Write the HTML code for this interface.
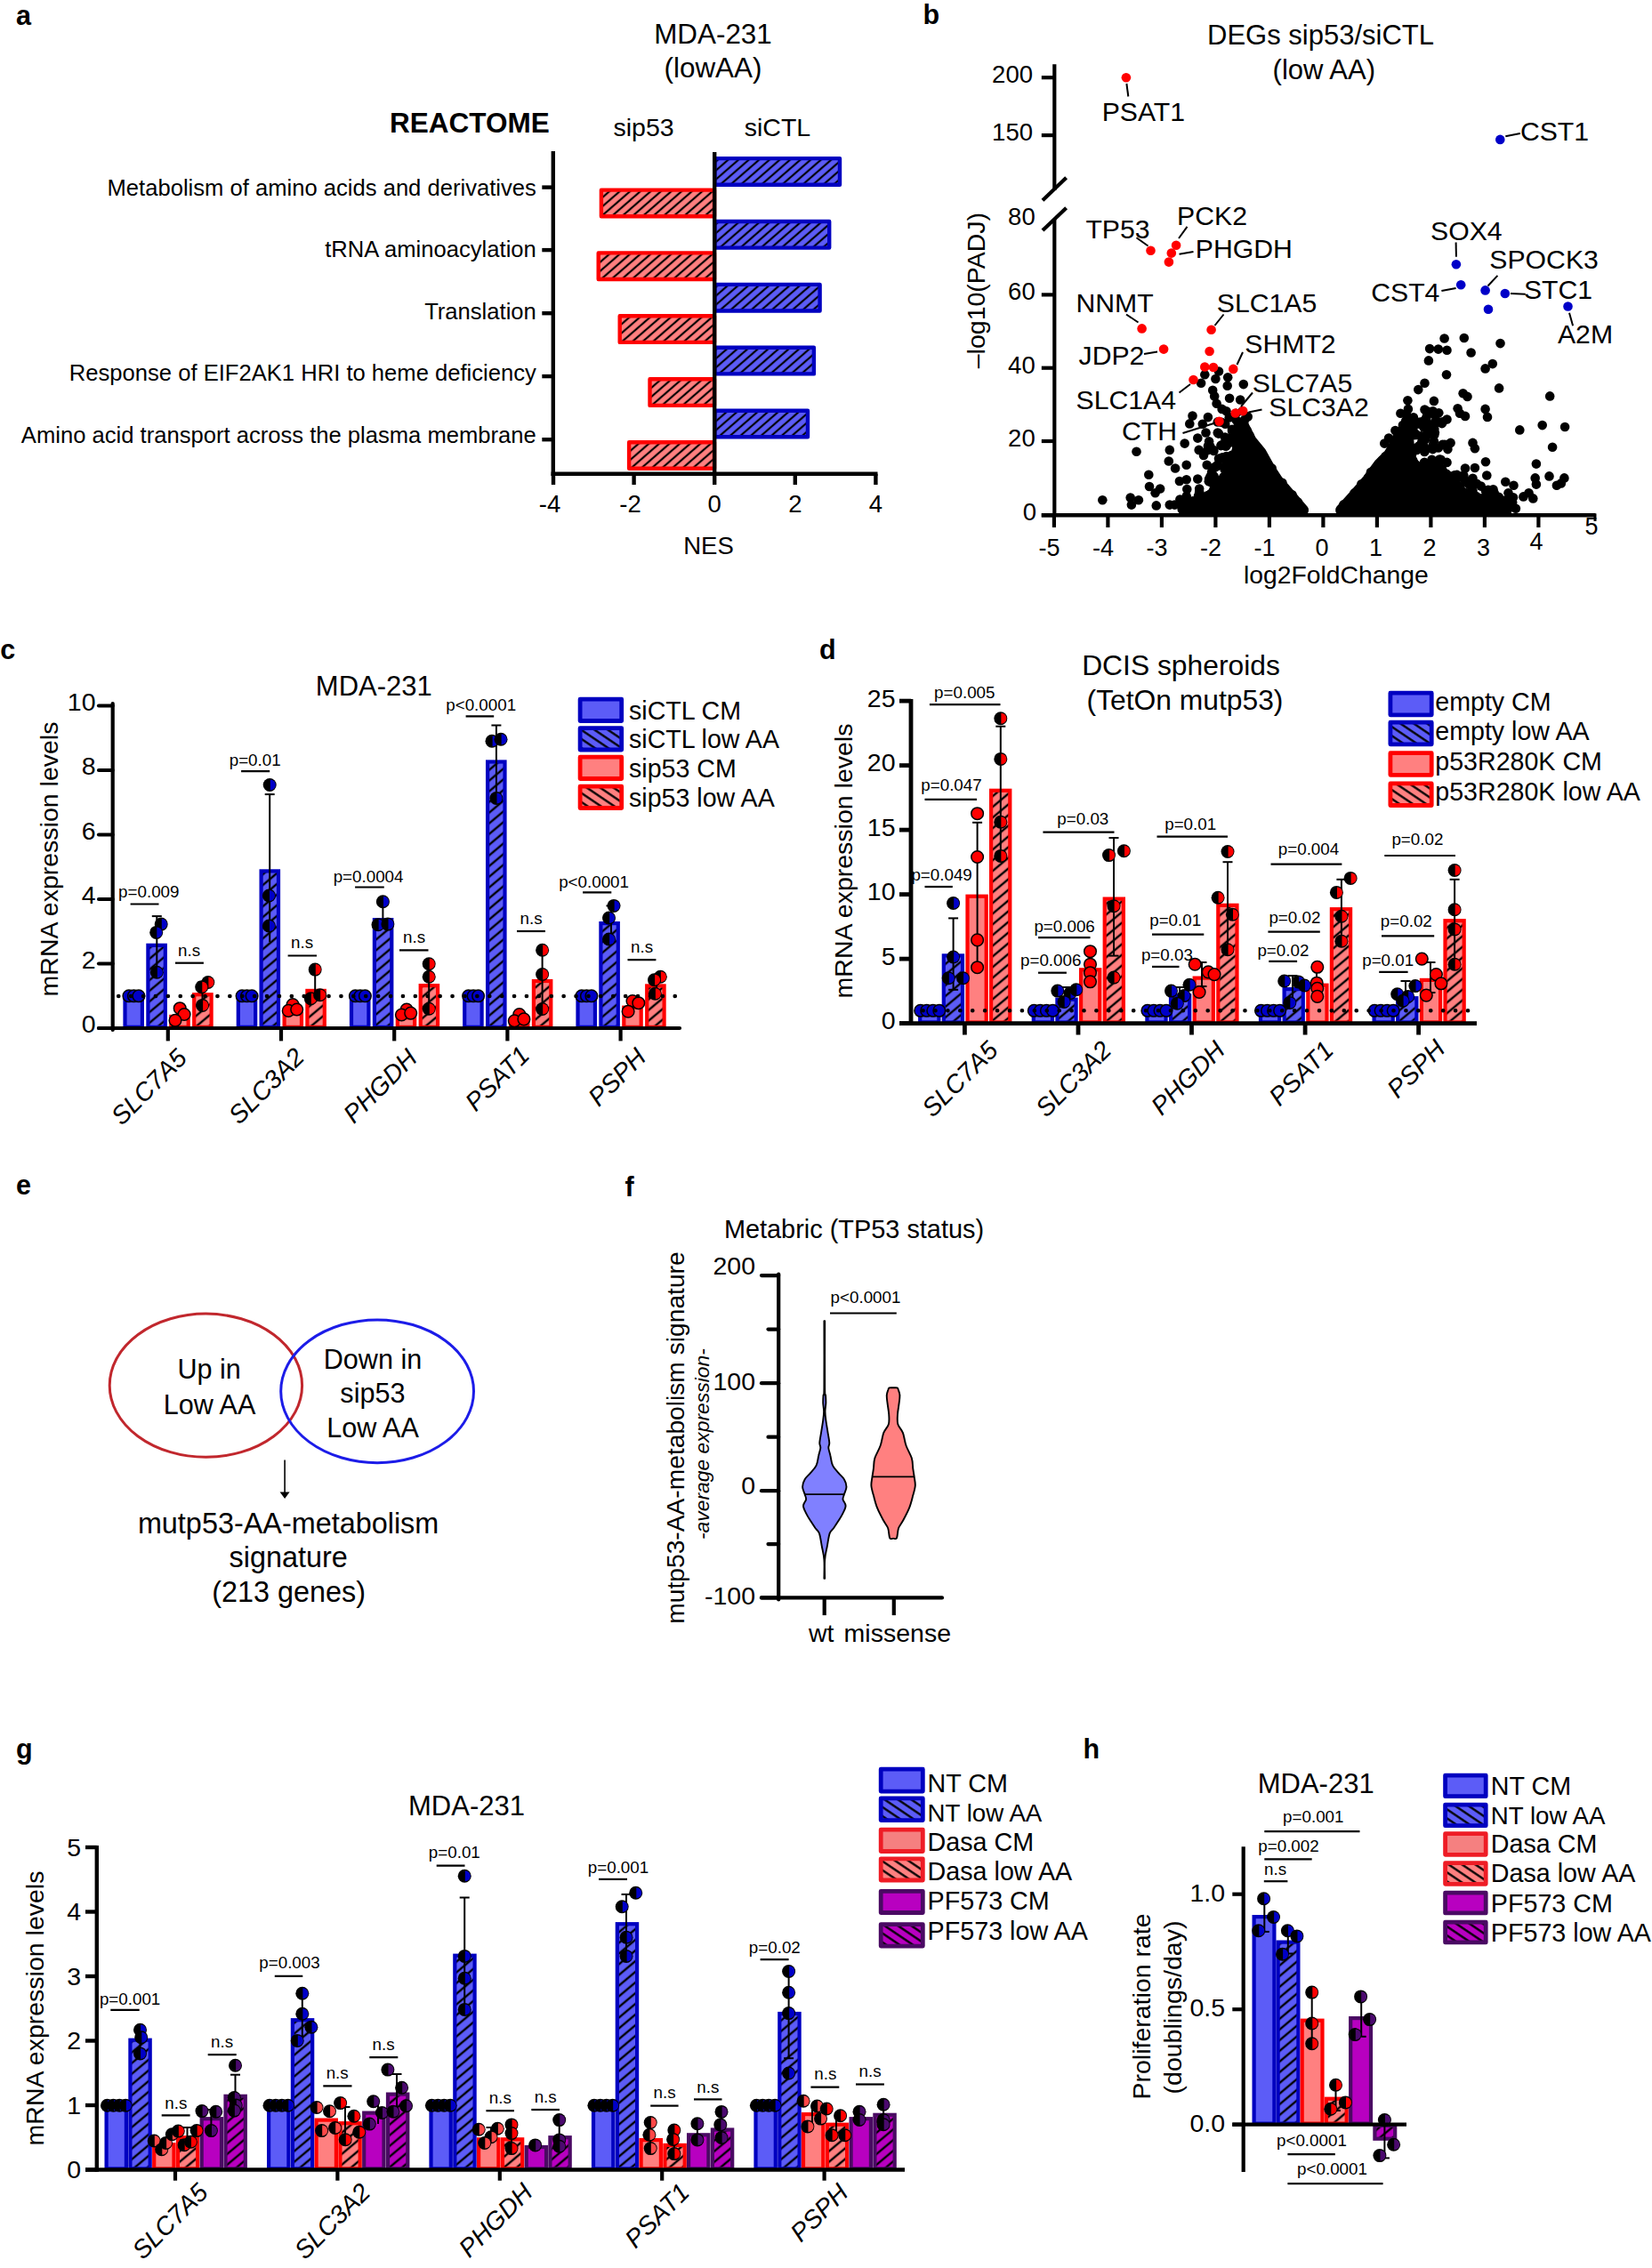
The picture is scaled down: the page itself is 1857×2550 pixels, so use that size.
<!DOCTYPE html>
<html><head><meta charset="utf-8"><title>Figure</title>
<style>html,body{margin:0;padding:0;background:#fff}svg{display:block}text{font-family:"Liberation Sans",Arial,Helvetica,sans-serif}</style>
</head><body>
<svg width="1857" height="2550" viewBox="0 0 1857 2550">
<rect width="1857" height="2550" fill="#fff"/>
<defs>
<pattern id="hb" width="20" height="9.2" patternUnits="userSpaceOnUse" patternTransform="rotate(-40)"><rect width="20" height="9.2" fill="#5c5cf7"/><rect y="3.4" width="20" height="2.4" fill="#000"/></pattern>
<pattern id="hr" width="20" height="9.2" patternUnits="userSpaceOnUse" patternTransform="rotate(-40)"><rect width="20" height="9.2" fill="#ff8080"/><rect y="3.4" width="20" height="2.4" fill="#000"/></pattern>
<pattern id="hp" width="20" height="9.2" patternUnits="userSpaceOnUse" patternTransform="rotate(-40)"><rect width="20" height="9.2" fill="#b800c0"/><rect y="3.4" width="20" height="2.4" fill="#000"/></pattern>
<pattern id="ab" width="20" height="7.6" patternUnits="userSpaceOnUse" patternTransform="rotate(-41)"><rect width="20" height="7.6" fill="#5c5cf7"/><rect y="2.7" width="20" height="2.2" fill="#000"/></pattern>
<pattern id="ar" width="20" height="7.6" patternUnits="userSpaceOnUse" patternTransform="rotate(-41)"><rect width="20" height="7.6" fill="#ff8080"/><rect y="2.7" width="20" height="2.2" fill="#000"/></pattern>
<pattern id="lb" width="20" height="8.4" patternUnits="userSpaceOnUse" patternTransform="rotate(34)"><rect width="20" height="8.4" fill="#5c5cf7"/><rect y="3" width="20" height="2.3" fill="#000"/></pattern>
<pattern id="lr" width="20" height="8.4" patternUnits="userSpaceOnUse" patternTransform="rotate(34)"><rect width="20" height="8.4" fill="#ff8080"/><rect y="3" width="20" height="2.3" fill="#000"/></pattern>
<pattern id="lp" width="20" height="8.4" patternUnits="userSpaceOnUse" patternTransform="rotate(34)"><rect width="20" height="8.4" fill="#b800c0"/><rect y="3" width="20" height="2.3" fill="#000"/></pattern>
</defs>
<text x="18" y="28" font-size="30.5" font-weight="bold">a</text>
<text x="801.5" y="49.2" font-size="31.4" text-anchor="middle">MDA-231</text>
<text x="801.5" y="87.2" font-size="31.4" text-anchor="middle">(lowAA)</text>
<text x="617.8" y="149.4" font-size="31.5" text-anchor="end" font-weight="bold">REACTOME</text>
<text x="723.6" y="152.5" font-size="28.5" text-anchor="middle">sip53</text>
<text x="874" y="152.5" font-size="28.5" text-anchor="middle">siCTL</text>
<rect x="803.4" y="178.1" width="140.6" height="29.6" fill="url(#ab)" stroke="#0000c0" stroke-width="4.4" stroke-linejoin="round"/>
<rect x="675.9" y="213.6" width="127.1" height="29.6" fill="url(#ar)" stroke="#ff0000" stroke-width="4.4" stroke-linejoin="round"/>
<rect x="803.4" y="249" width="128.8" height="29.6" fill="url(#ab)" stroke="#0000c0" stroke-width="4.4" stroke-linejoin="round"/>
<rect x="672.7" y="284.4" width="130.3" height="29.6" fill="url(#ar)" stroke="#ff0000" stroke-width="4.4" stroke-linejoin="round"/>
<rect x="803.4" y="319.9" width="118.2" height="29.6" fill="url(#ab)" stroke="#0000c0" stroke-width="4.4" stroke-linejoin="round"/>
<rect x="696.7" y="355.3" width="106.3" height="29.6" fill="url(#ar)" stroke="#ff0000" stroke-width="4.4" stroke-linejoin="round"/>
<rect x="803.4" y="390.8" width="111.5" height="29.6" fill="url(#ab)" stroke="#0000c0" stroke-width="4.4" stroke-linejoin="round"/>
<rect x="730.5" y="426.3" width="72.5" height="29.6" fill="url(#ar)" stroke="#ff0000" stroke-width="4.4" stroke-linejoin="round"/>
<rect x="803.4" y="461.7" width="104.6" height="29.6" fill="url(#ab)" stroke="#0000c0" stroke-width="4.4" stroke-linejoin="round"/>
<rect x="707.1" y="497.2" width="95.9" height="29.6" fill="url(#ar)" stroke="#ff0000" stroke-width="4.4" stroke-linejoin="round"/>
<line x1="621.8" y1="170" x2="621.8" y2="535" stroke="#000" stroke-width="4.4"/>
<line x1="803.2" y1="171" x2="803.2" y2="533" stroke="#000" stroke-width="4.4"/>
<line x1="619.6" y1="532.8" x2="986.5" y2="532.8" stroke="#000" stroke-width="4.4"/>
<line x1="622" y1="532.8" x2="622" y2="545" stroke="#000" stroke-width="4.4"/>
<text x="618" y="575.6" font-size="27.5" text-anchor="middle">-4</text>
<line x1="712.6" y1="532.8" x2="712.6" y2="545" stroke="#000" stroke-width="4.4"/>
<text x="708.6" y="575.6" font-size="27.5" text-anchor="middle">-2</text>
<line x1="803.2" y1="532.8" x2="803.2" y2="545" stroke="#000" stroke-width="4.4"/>
<text x="803.2" y="575.6" font-size="27.5" text-anchor="middle">0</text>
<line x1="893.8" y1="532.8" x2="893.8" y2="545" stroke="#000" stroke-width="4.4"/>
<text x="893.8" y="575.6" font-size="27.5" text-anchor="middle">2</text>
<line x1="984.4" y1="532.8" x2="984.4" y2="545" stroke="#000" stroke-width="4.4"/>
<text x="984.4" y="575.6" font-size="27.5" text-anchor="middle">4</text>
<text x="796.5" y="622.9" font-size="27.5" text-anchor="middle">NES</text>
<line x1="609.3" y1="210.6" x2="621.8" y2="210.6" stroke="#000" stroke-width="4.4"/>
<text x="602.8" y="219.5" font-size="25.6" text-anchor="end">Metabolism of amino acids and derivatives</text>
<line x1="609.3" y1="281.1" x2="621.8" y2="281.1" stroke="#000" stroke-width="4.4"/>
<text x="602.8" y="289.1" font-size="25.6" text-anchor="end">tRNA aminoacylation</text>
<line x1="609.3" y1="352.2" x2="621.8" y2="352.2" stroke="#000" stroke-width="4.4"/>
<text x="602.8" y="358.7" font-size="25.6" text-anchor="end">Translation</text>
<line x1="609.3" y1="423.1" x2="621.8" y2="423.1" stroke="#000" stroke-width="4.4"/>
<text x="602.8" y="428.3" font-size="25.6" text-anchor="end">Response of EIF2AK1 HRI to heme deficiency</text>
<line x1="609.3" y1="494.2" x2="621.8" y2="494.2" stroke="#000" stroke-width="4.4"/>
<text x="602.8" y="497.9" font-size="25.6" text-anchor="end">Amino acid transport across the plasma membrane</text>
<text x="1037.5" y="27" font-size="30.5" font-weight="bold">b</text>
<text x="1484.5" y="50" font-size="31" text-anchor="middle">DEGs sip53/siCTL</text>
<text x="1488.3" y="89.1" font-size="31" text-anchor="middle">(low AA)</text>
<polygon points="1465.7,574 1465.7,573.1 1452.7,557.9 1437.5,540.6 1428.8,527.5 1418,508.1 1407.1,494.9 1400.6,482.2 1396.7,474.4 1393,484.7 1393.6,492.9 1388.8,510.2 1379.7,532 1362.8,553.8 1341,571.5 1341,574" fill="#000" stroke="#000" stroke-width="10.6" stroke-linejoin="round"/>
<polygon points="1506.5,574 1506.5,573.1 1523.9,553.8 1536.9,538.6 1550,520.9 1560.8,510.2 1573.8,488.4 1578.2,478.5 1582.4,488.8 1581.8,510.2 1595.1,527.9 1625.3,532.8 1633.8,548.4 1655.6,557.9 1681,567 1694.3,573.5 1694.3,574" fill="#000" stroke="#000" stroke-width="10.6" stroke-linejoin="round"/>
<g fill="#000">
<circle cx="1462.6" cy="571.1" r="5.3"/>
<circle cx="1458.9" cy="564.6" r="5.3"/>
<circle cx="1452.5" cy="556.2" r="5.3"/>
<circle cx="1444.2" cy="548.4" r="5.3"/>
<circle cx="1441.4" cy="542.8" r="5.3"/>
<circle cx="1437" cy="540.5" r="5.3"/>
<circle cx="1430.4" cy="531.7" r="5.3"/>
<circle cx="1429.7" cy="526.5" r="5.3"/>
<circle cx="1423.6" cy="519.5" r="5.3"/>
<circle cx="1417.7" cy="509.5" r="5.3"/>
<circle cx="1414.1" cy="504" r="5.3"/>
<circle cx="1410.9" cy="500.2" r="5.3"/>
<circle cx="1404.7" cy="490" r="5.3"/>
<circle cx="1401.8" cy="484.2" r="5.3"/>
<circle cx="1398.1" cy="475.2" r="5.3"/>
<circle cx="1394.6" cy="481.4" r="5.3"/>
<circle cx="1392.8" cy="492.1" r="5.3"/>
<circle cx="1393.1" cy="494.7" r="5.3"/>
<circle cx="1390.8" cy="501.5" r="5.3"/>
<circle cx="1387.6" cy="515.2" r="5.3"/>
<circle cx="1382.6" cy="524.4" r="5.3"/>
<circle cx="1381.2" cy="528.9" r="5.3"/>
<circle cx="1376.3" cy="538" r="5.3"/>
<circle cx="1369" cy="544.7" r="5.3"/>
<circle cx="1366.2" cy="552.2" r="5.3"/>
<circle cx="1360.9" cy="555.6" r="5.3"/>
<circle cx="1357.1" cy="557.3" r="5.3"/>
<circle cx="1349.9" cy="564" r="5.3"/>
<circle cx="1345" cy="567.3" r="5.3"/>
<circle cx="1510.3" cy="567.4" r="5.3"/>
<circle cx="1516.6" cy="564.1" r="5.3"/>
<circle cx="1522.4" cy="554.4" r="5.3"/>
<circle cx="1527.4" cy="552.4" r="5.3"/>
<circle cx="1530.4" cy="544.2" r="5.3"/>
<circle cx="1537.9" cy="537.5" r="5.3"/>
<circle cx="1540.9" cy="530.9" r="5.3"/>
<circle cx="1547.4" cy="525.9" r="5.3"/>
<circle cx="1553.7" cy="517.5" r="5.3"/>
<circle cx="1557.7" cy="513.1" r="5.3"/>
<circle cx="1565.3" cy="505.4" r="5.3"/>
<circle cx="1566.5" cy="498.9" r="5.3"/>
<circle cx="1570.9" cy="489.7" r="5.3"/>
<circle cx="1573.7" cy="485.8" r="5.3"/>
<circle cx="1576.9" cy="478" r="5.3"/>
<circle cx="1582" cy="488.1" r="5.3"/>
<circle cx="1582.3" cy="501.1" r="5.3"/>
<circle cx="1581.5" cy="504.4" r="5.3"/>
<circle cx="1583.4" cy="512.4" r="5.3"/>
<circle cx="1588.2" cy="517.6" r="5.3"/>
<circle cx="1590.6" cy="521.9" r="5.3"/>
<circle cx="1600.3" cy="527.5" r="5.3"/>
<circle cx="1609.9" cy="529.2" r="5.3"/>
<circle cx="1612.9" cy="531.1" r="5.3"/>
<circle cx="1626.3" cy="533.4" r="5.3"/>
<circle cx="1626" cy="533.8" r="5.3"/>
<circle cx="1632.9" cy="547.5" r="5.3"/>
<circle cx="1635.4" cy="550.4" r="5.3"/>
<circle cx="1649.3" cy="555.6" r="5.3"/>
<circle cx="1655" cy="556.5" r="5.3"/>
<circle cx="1659.5" cy="558.1" r="5.3"/>
<circle cx="1663.6" cy="560.3" r="5.3"/>
<circle cx="1679.8" cy="565.9" r="5.3"/>
<circle cx="1688.7" cy="571.4" r="5.3"/>
<circle cx="1689.2" cy="570.6" r="5.3"/>
<circle cx="1239.3" cy="562.3" r="5.3"/>
<circle cx="1270.7" cy="559.6" r="5.3"/>
<circle cx="1271.9" cy="567.6" r="5.3"/>
<circle cx="1279.9" cy="562.3" r="5.3"/>
<circle cx="1277.5" cy="507.8" r="5.3"/>
<circle cx="1291.3" cy="533.7" r="5.3"/>
<circle cx="1292" cy="547" r="5.3"/>
<circle cx="1298.6" cy="554.3" r="5.3"/>
<circle cx="1304.1" cy="549.5" r="5.3"/>
<circle cx="1299.8" cy="568.4" r="5.3"/>
<circle cx="1314.8" cy="505.9" r="5.3"/>
<circle cx="1313.8" cy="518.5" r="5.3"/>
<circle cx="1321.1" cy="526.5" r="5.3"/>
<circle cx="1314.8" cy="567.6" r="5.3"/>
<circle cx="1320.4" cy="567.6" r="5.3"/>
<circle cx="1325.9" cy="541" r="5.3"/>
<circle cx="1333.7" cy="522.8" r="5.3"/>
<circle cx="1333.7" cy="539.3" r="5.3"/>
<circle cx="1331.7" cy="498.6" r="5.3"/>
<circle cx="1340.5" cy="467.6" r="5.3"/>
<circle cx="1337.3" cy="476.4" r="5.3"/>
<circle cx="1357.9" cy="469.1" r="5.3"/>
<circle cx="1351.8" cy="476.8" r="5.3"/>
<circle cx="1346.3" cy="492.6" r="5.3"/>
<circle cx="1347.7" cy="505.9" r="5.3"/>
<circle cx="1346.3" cy="538.6" r="5.3"/>
<circle cx="1333.7" cy="557.9" r="5.3"/>
<circle cx="1336.1" cy="565.2" r="5.3"/>
<circle cx="1334.9" cy="572.5" r="5.3"/>
<circle cx="1354.3" cy="421.2" r="5.3"/>
<circle cx="1370" cy="417.5" r="5.3"/>
<circle cx="1366.4" cy="426" r="5.3"/>
<circle cx="1350.1" cy="430.8" r="5.3"/>
<circle cx="1380.2" cy="424.3" r="5.3"/>
<circle cx="1379.7" cy="433.7" r="5.3"/>
<circle cx="1397.8" cy="432.1" r="5.3"/>
<circle cx="1363.2" cy="438.8" r="5.3"/>
<circle cx="1365.2" cy="445.4" r="5.3"/>
<circle cx="1382.1" cy="447.8" r="5.3"/>
<circle cx="1394.2" cy="449.5" r="5.3"/>
<circle cx="1367.6" cy="453.8" r="5.3"/>
<circle cx="1373.6" cy="459.9" r="5.3"/>
<circle cx="1378.5" cy="462.3" r="5.3"/>
<circle cx="1355.5" cy="486.5" r="5.3"/>
<circle cx="1359.1" cy="496.2" r="5.3"/>
<circle cx="1353" cy="511.9" r="5.3"/>
<circle cx="1363.9" cy="505.9" r="5.3"/>
<circle cx="1356.7" cy="522.8" r="5.3"/>
<circle cx="1365.2" cy="525.3" r="5.3"/>
<circle cx="1359.1" cy="538.6" r="5.3"/>
<circle cx="1348.2" cy="549.5" r="5.3"/>
<circle cx="1353" cy="559.2" r="5.3"/>
<circle cx="1343.4" cy="566.4" r="5.3"/>
<circle cx="1368.8" cy="486.5" r="5.3"/>
<circle cx="1372.4" cy="501.1" r="5.3"/>
<circle cx="1378.5" cy="525.3" r="5.3"/>
<circle cx="1382.1" cy="493.8" r="5.3"/>
<circle cx="1386.9" cy="484.1" r="5.3"/>
<circle cx="1391.8" cy="476.8" r="5.3"/>
<circle cx="1377.3" cy="476.8" r="5.3"/>
<circle cx="1368.8" cy="474.4" r="5.3"/>
<circle cx="1399" cy="472" r="5.3"/>
<circle cx="1402.7" cy="468.4" r="5.3"/>
<circle cx="1396.6" cy="462.3" r="5.3"/>
<circle cx="1389.4" cy="464.7" r="5.3"/>
<circle cx="1350.6" cy="571.3" r="5.3"/>
<circle cx="1357.9" cy="568.8" r="5.3"/>
<circle cx="1365.2" cy="547" r="5.3"/>
<circle cx="1370" cy="515.6" r="5.3"/>
<circle cx="1384.5" cy="511.9" r="5.3"/>
<circle cx="1379.7" cy="539.8" r="5.3"/>
<circle cx="1372.4" cy="554.3" r="5.3"/>
<circle cx="1389.4" cy="472" r="5.3"/>
<circle cx="1607.1" cy="392.1" r="5.3"/>
<circle cx="1616.8" cy="392.6" r="5.3"/>
<circle cx="1626.5" cy="393.8" r="5.3"/>
<circle cx="1605.9" cy="405.4" r="5.3"/>
<circle cx="1653.6" cy="396.5" r="5.3"/>
<circle cx="1686.5" cy="386.1" r="5.3"/>
<circle cx="1677.8" cy="409.1" r="5.3"/>
<circle cx="1669.6" cy="414.4" r="5.3"/>
<circle cx="1626" cy="421.2" r="5.3"/>
<circle cx="1601.5" cy="430.8" r="5.3"/>
<circle cx="1594.3" cy="438.1" r="5.3"/>
<circle cx="1685.1" cy="436.4" r="5.3"/>
<circle cx="1644.6" cy="442.2" r="5.3"/>
<circle cx="1649.5" cy="445.9" r="5.3"/>
<circle cx="1742.2" cy="445.4" r="5.3"/>
<circle cx="1582.4" cy="450.2" r="5.3"/>
<circle cx="1611.9" cy="450.9" r="5.3"/>
<circle cx="1638.6" cy="459.2" r="5.3"/>
<circle cx="1669.6" cy="459.9" r="5.3"/>
<circle cx="1601.5" cy="460.6" r="5.3"/>
<circle cx="1610.7" cy="462.3" r="5.3"/>
<circle cx="1617.3" cy="464.3" r="5.3"/>
<circle cx="1641" cy="464.7" r="5.3"/>
<circle cx="1647" cy="467.9" r="5.3"/>
<circle cx="1672" cy="468.9" r="5.3"/>
<circle cx="1759.1" cy="480" r="5.3"/>
<circle cx="1733.7" cy="478.1" r="5.3"/>
<circle cx="1708.3" cy="483.4" r="5.3"/>
<circle cx="1626.5" cy="471.5" r="5.3"/>
<circle cx="1621.6" cy="474.4" r="5.3"/>
<circle cx="1613.2" cy="474.4" r="5.3"/>
<circle cx="1602.3" cy="471.5" r="5.3"/>
<circle cx="1630.6" cy="497.9" r="5.3"/>
<circle cx="1655.5" cy="497.9" r="5.3"/>
<circle cx="1657.9" cy="504.2" r="5.3"/>
<circle cx="1745.1" cy="502.7" r="5.3"/>
<circle cx="1670" cy="519.2" r="5.3"/>
<circle cx="1726.9" cy="521.6" r="5.3"/>
<circle cx="1626.5" cy="519.9" r="5.3"/>
<circle cx="1647" cy="526.5" r="5.3"/>
<circle cx="1657.9" cy="526" r="5.3"/>
<circle cx="1671.3" cy="534.5" r="5.3"/>
<circle cx="1655.5" cy="537.8" r="5.3"/>
<circle cx="1725.7" cy="537.4" r="5.3"/>
<circle cx="1741.5" cy="535.4" r="5.3"/>
<circle cx="1758.4" cy="537.4" r="5.3"/>
<circle cx="1754.8" cy="543.4" r="5.3"/>
<circle cx="1749.9" cy="545.8" r="5.3"/>
<circle cx="1726.9" cy="544.6" r="5.3"/>
<circle cx="1664.7" cy="546.6" r="5.3"/>
<circle cx="1692.3" cy="541.7" r="5.3"/>
<circle cx="1701.5" cy="545.8" r="5.3"/>
<circle cx="1678.5" cy="550.2" r="5.3"/>
<circle cx="1712.4" cy="558.4" r="5.3"/>
<circle cx="1718.5" cy="554.3" r="5.3"/>
<circle cx="1723.3" cy="560.4" r="5.3"/>
<circle cx="1701" cy="559.2" r="5.3"/>
<circle cx="1700.3" cy="570" r="5.3"/>
<circle cx="1623.6" cy="380.5" r="5.3"/>
<circle cx="1645.8" cy="380" r="5.3"/>
<circle cx="1574.4" cy="464.7" r="5.3"/>
<circle cx="1582.9" cy="459.9" r="5.3"/>
<circle cx="1588.9" cy="473.2" r="5.3"/>
<circle cx="1596.2" cy="476.8" r="5.3"/>
<circle cx="1604.7" cy="484.1" r="5.3"/>
<circle cx="1568.4" cy="484.1" r="5.3"/>
<circle cx="1561.1" cy="492.6" r="5.3"/>
<circle cx="1556.3" cy="498.6" r="5.3"/>
<circle cx="1573.2" cy="493.8" r="5.3"/>
<circle cx="1582.9" cy="486.5" r="5.3"/>
<circle cx="1592.6" cy="488.9" r="5.3"/>
<circle cx="1602.3" cy="493.8" r="5.3"/>
<circle cx="1611.9" cy="496.2" r="5.3"/>
<circle cx="1616.8" cy="503.5" r="5.3"/>
<circle cx="1624" cy="499.8" r="5.3"/>
<circle cx="1592.6" cy="505.9" r="5.3"/>
<circle cx="1602.3" cy="505.9" r="5.3"/>
<circle cx="1599.8" cy="522.8" r="5.3"/>
<circle cx="1609.5" cy="516.8" r="5.3"/>
<circle cx="1616.8" cy="522.8" r="5.3"/>
<circle cx="1611.9" cy="530.1" r="5.3"/>
<circle cx="1621.6" cy="534.9" r="5.3"/>
<circle cx="1631.3" cy="537.4" r="5.3"/>
<circle cx="1636.2" cy="542.2" r="5.3"/>
<circle cx="1641" cy="547" r="5.3"/>
<circle cx="1644.6" cy="554.3" r="5.3"/>
<circle cx="1650.7" cy="559.2" r="5.3"/>
<circle cx="1657.9" cy="564" r="5.3"/>
<circle cx="1665.2" cy="566.4" r="5.3"/>
<circle cx="1670" cy="559.2" r="5.3"/>
<circle cx="1674.9" cy="564" r="5.3"/>
<circle cx="1682.2" cy="571.3" r="5.3"/>
<circle cx="1688.2" cy="564" r="5.3"/>
<circle cx="1695.5" cy="554.3" r="5.3"/>
<circle cx="1696.7" cy="564" r="5.3"/>
<circle cx="1684.6" cy="559.2" r="5.3"/>
<circle cx="1679.7" cy="554.3" r="5.3"/>
<circle cx="1670" cy="551.9" r="5.3"/>
<circle cx="1655.5" cy="551.9" r="5.3"/>
<circle cx="1660.4" cy="571.3" r="5.3"/>
<circle cx="1667.6" cy="572.5" r="5.3"/>
<circle cx="1653.1" cy="571.3" r="5.3"/>
<circle cx="1378.5" cy="519.8" r="5.3"/>
<circle cx="1348.2" cy="553.3" r="5.3"/>
<circle cx="1384" cy="492.1" r="5.3"/>
<circle cx="1333.6" cy="564.6" r="5.3"/>
<circle cx="1376.7" cy="528" r="5.3"/>
<circle cx="1364.4" cy="551.6" r="5.3"/>
<circle cx="1380.1" cy="522.9" r="5.3"/>
<circle cx="1364.8" cy="549.1" r="5.3"/>
<circle cx="1368.5" cy="522.7" r="5.3"/>
<circle cx="1361.2" cy="542.1" r="5.3"/>
<circle cx="1385" cy="484.5" r="5.3"/>
<circle cx="1340" cy="569" r="5.3"/>
<circle cx="1369.3" cy="523.4" r="5.3"/>
<circle cx="1328.7" cy="572.4" r="5.3"/>
<circle cx="1383.5" cy="497.1" r="5.3"/>
<circle cx="1334.9" cy="565.6" r="5.3"/>
<circle cx="1365.5" cy="542.9" r="5.3"/>
<circle cx="1374" cy="514.4" r="5.3"/>
<circle cx="1379.2" cy="500.3" r="5.3"/>
<circle cx="1377.3" cy="527.4" r="5.3"/>
<circle cx="1391.9" cy="481.3" r="5.3"/>
<circle cx="1383.5" cy="515.1" r="5.3"/>
<circle cx="1348.9" cy="556.6" r="5.3"/>
<circle cx="1375.4" cy="536.2" r="5.3"/>
<circle cx="1341.8" cy="570.4" r="5.3"/>
<circle cx="1366.6" cy="525.1" r="5.3"/>
<circle cx="1364.6" cy="535.4" r="5.3"/>
<circle cx="1369.5" cy="540.8" r="5.3"/>
<circle cx="1377.5" cy="496.4" r="5.3"/>
<circle cx="1377" cy="491.5" r="5.3"/>
<circle cx="1358.8" cy="541.2" r="5.3"/>
<circle cx="1378" cy="501.8" r="5.3"/>
<circle cx="1373.1" cy="500.4" r="5.3"/>
<circle cx="1388.9" cy="490.9" r="5.3"/>
<circle cx="1339.3" cy="568.3" r="5.3"/>
<circle cx="1393.2" cy="484" r="5.3"/>
<circle cx="1340.8" cy="563.3" r="5.3"/>
<circle cx="1347" cy="557.4" r="5.3"/>
<circle cx="1385" cy="482.7" r="5.3"/>
<circle cx="1389.5" cy="500.3" r="5.3"/>
<circle cx="1344.8" cy="567.3" r="5.3"/>
<circle cx="1377.2" cy="517" r="5.3"/>
<circle cx="1391.3" cy="483.5" r="5.3"/>
<circle cx="1339.1" cy="564.2" r="5.3"/>
<circle cx="1378.5" cy="513.1" r="5.3"/>
<circle cx="1360.6" cy="535.5" r="5.3"/>
<circle cx="1386.7" cy="492.6" r="5.3"/>
<circle cx="1362" cy="541" r="5.3"/>
<circle cx="1340.9" cy="565.6" r="5.3"/>
<circle cx="1370.2" cy="542.7" r="5.3"/>
<circle cx="1362.1" cy="530.7" r="5.3"/>
<circle cx="1360.2" cy="540.2" r="5.3"/>
<circle cx="1383.6" cy="494.2" r="5.3"/>
<circle cx="1328.8" cy="567" r="5.3"/>
<circle cx="1364.4" cy="507" r="5.3"/>
<circle cx="1381.7" cy="469.4" r="5.3"/>
<circle cx="1385.2" cy="468.8" r="5.3"/>
<circle cx="1360.2" cy="501.5" r="5.3"/>
<circle cx="1373.2" cy="474.7" r="5.3"/>
<circle cx="1357.2" cy="506.3" r="5.3"/>
<circle cx="1369.9" cy="487.6" r="5.3"/>
<circle cx="1326.4" cy="561.5" r="5.3"/>
<circle cx="1358" cy="501.3" r="5.3"/>
<circle cx="1334.3" cy="550" r="5.3"/>
<circle cx="1610.6" cy="505.1" r="5.3"/>
<circle cx="1590" cy="486.8" r="5.3"/>
<circle cx="1585.8" cy="474.8" r="5.3"/>
<circle cx="1592" cy="503.6" r="5.3"/>
<circle cx="1613.6" cy="474.8" r="5.3"/>
<circle cx="1615.1" cy="473.5" r="5.3"/>
<circle cx="1595.1" cy="474.8" r="5.3"/>
<circle cx="1621.5" cy="499.9" r="5.3"/>
<circle cx="1581.6" cy="467.3" r="5.3"/>
<circle cx="1599.7" cy="500" r="5.3"/>
<circle cx="1613" cy="466.6" r="5.3"/>
<circle cx="1587.1" cy="510.6" r="5.3"/>
<circle cx="1600.5" cy="480.6" r="5.3"/>
<circle cx="1595.2" cy="501.2" r="5.3"/>
<circle cx="1597.6" cy="490.3" r="5.3"/>
<circle cx="1625.2" cy="532.6" r="5.3"/>
<circle cx="1598" cy="474.3" r="5.3"/>
<circle cx="1617.8" cy="474.8" r="5.3"/>
<circle cx="1601.2" cy="519.7" r="5.3"/>
<circle cx="1600.3" cy="524.3" r="5.3"/>
<circle cx="1603.2" cy="471.8" r="5.3"/>
<circle cx="1613" cy="526.2" r="5.3"/>
<circle cx="1583" cy="505.3" r="5.3"/>
<circle cx="1598.3" cy="496.7" r="5.3"/>
<circle cx="1586.1" cy="480.6" r="5.3"/>
<circle cx="1606.5" cy="527.4" r="5.3"/>
<circle cx="1584.1" cy="495.7" r="5.3"/>
<circle cx="1622" cy="530.4" r="5.3"/>
<circle cx="1588.9" cy="469.2" r="5.3"/>
<circle cx="1604.4" cy="463.9" r="5.3"/>
<circle cx="1627.4" cy="505.1" r="5.3"/>
<circle cx="1620.9" cy="476.1" r="5.3"/>
<circle cx="1600.2" cy="521.6" r="5.3"/>
<circle cx="1590" cy="489.1" r="5.3"/>
<circle cx="1606.3" cy="487.9" r="5.3"/>
<circle cx="1584.9" cy="478" r="5.3"/>
<circle cx="1617.6" cy="525.3" r="5.3"/>
<circle cx="1610.8" cy="500" r="5.3"/>
<circle cx="1612.3" cy="482.3" r="5.3"/>
<circle cx="1601" cy="502.4" r="5.3"/>
<circle cx="1601.3" cy="508" r="5.3"/>
<circle cx="1602.5" cy="491.9" r="5.3"/>
<circle cx="1604.8" cy="477.1" r="5.3"/>
<circle cx="1619.7" cy="516.8" r="5.3"/>
<circle cx="1603.1" cy="473" r="5.3"/>
<circle cx="1603.9" cy="467.8" r="5.3"/>
<circle cx="1585.1" cy="491.3" r="5.3"/>
<circle cx="1583.1" cy="492.2" r="5.3"/>
<circle cx="1605.9" cy="462.9" r="5.3"/>
<circle cx="1612.8" cy="466" r="5.3"/>
<circle cx="1618.1" cy="516.6" r="5.3"/>
<circle cx="1606" cy="463.9" r="5.3"/>
<circle cx="1605.6" cy="487.5" r="5.3"/>
<circle cx="1624.8" cy="532.5" r="5.3"/>
<circle cx="1618" cy="519.3" r="5.3"/>
<circle cx="1621.1" cy="527.7" r="5.3"/>
<circle cx="1581.7" cy="485.5" r="5.3"/>
<circle cx="1605.5" cy="527" r="5.3"/>
<circle cx="1589.5" cy="479.1" r="5.3"/>
<circle cx="1605.7" cy="483.2" r="5.3"/>
<circle cx="1580.2" cy="473.2" r="5.3"/>
<circle cx="1615.2" cy="525.2" r="5.3"/>
<circle cx="1587.3" cy="517.1" r="5.3"/>
<circle cx="1584.4" cy="498.6" r="5.3"/>
<circle cx="1612.8" cy="486.2" r="5.3"/>
<circle cx="1625.7" cy="500.4" r="5.3"/>
<circle cx="1609.7" cy="524.2" r="5.3"/>
<circle cx="1612.4" cy="488.7" r="5.3"/>
<circle cx="1675.7" cy="560.1" r="5.3"/>
<circle cx="1636.7" cy="542.2" r="5.3"/>
<circle cx="1634.5" cy="547.5" r="5.3"/>
<circle cx="1646.3" cy="538.9" r="5.3"/>
<circle cx="1700.2" cy="565" r="5.3"/>
<circle cx="1659.9" cy="543.7" r="5.3"/>
<circle cx="1668.9" cy="559.2" r="5.3"/>
<circle cx="1651.9" cy="545.2" r="5.3"/>
<circle cx="1692.6" cy="562.2" r="5.3"/>
<circle cx="1644.8" cy="537.1" r="5.3"/>
<circle cx="1645.3" cy="534.4" r="5.3"/>
<circle cx="1685.1" cy="567.6" r="5.3"/>
<circle cx="1672.9" cy="550.7" r="5.3"/>
<circle cx="1647.7" cy="542.5" r="5.3"/>
<circle cx="1679.5" cy="561.3" r="5.3"/>
<circle cx="1685.3" cy="568.1" r="5.3"/>
<circle cx="1637.8" cy="533.9" r="5.3"/>
<circle cx="1627.8" cy="534.5" r="5.3"/>
<circle cx="1684.8" cy="558.9" r="5.3"/>
<circle cx="1685.2" cy="563.1" r="5.3"/>
<circle cx="1695.7" cy="569.5" r="5.3"/>
<circle cx="1703.9" cy="571.7" r="5.3"/>
<circle cx="1634.5" cy="541.3" r="5.3"/>
<circle cx="1635" cy="534.2" r="5.3"/>
<circle cx="1698.2" cy="566.2" r="5.3"/>
</g>
<line x1="1185.3" y1="72.2" x2="1185.3" y2="214" stroke="#000" stroke-width="4.2"/>
<line x1="1185.3" y1="246" x2="1185.3" y2="581" stroke="#000" stroke-width="4.2"/>
<line x1="1172" y1="225.2" x2="1198.6" y2="199.8" stroke="#000" stroke-width="4.2"/>
<line x1="1172" y1="259.1" x2="1198.6" y2="233.7" stroke="#000" stroke-width="4.2"/>
<line x1="1170.8" y1="87.2" x2="1185.3" y2="87.2" stroke="#000" stroke-width="4.2"/>
<text x="1161" y="93.2" font-size="27.5" text-anchor="end">200</text>
<line x1="1170.8" y1="152.1" x2="1185.3" y2="152.1" stroke="#000" stroke-width="4.2"/>
<text x="1161" y="158.1" font-size="27.5" text-anchor="end">150</text>
<line x1="1170.8" y1="331.4" x2="1185.3" y2="331.4" stroke="#000" stroke-width="4.2"/>
<text x="1163.7" y="337.4" font-size="27.5" text-anchor="end">60</text>
<line x1="1170.8" y1="413.7" x2="1185.3" y2="413.7" stroke="#000" stroke-width="4.2"/>
<text x="1163.7" y="419.7" font-size="27.5" text-anchor="end">40</text>
<line x1="1170.8" y1="496" x2="1185.3" y2="496" stroke="#000" stroke-width="4.2"/>
<text x="1163.7" y="502" font-size="27.5" text-anchor="end">20</text>
<line x1="1170.8" y1="579.3" x2="1185.3" y2="579.3" stroke="#000" stroke-width="4.2"/>
<text x="1165" y="585.3" font-size="27.5" text-anchor="end">0</text>
<text x="1163.7" y="253" font-size="27.5" text-anchor="end">80</text>
<line x1="1170.8" y1="579.3" x2="1793.5" y2="579.3" stroke="#000" stroke-width="4.4"/>
<line x1="1793" y1="577.4" x2="1793" y2="586" stroke="#000" stroke-width="3"/>
<line x1="1184.9" y1="579.3" x2="1184.9" y2="593" stroke="#000" stroke-width="4.2"/>
<text x="1179.4" y="625" font-size="27" text-anchor="middle">-5</text>
<line x1="1245.4" y1="579.3" x2="1245.4" y2="593" stroke="#000" stroke-width="4.2"/>
<text x="1239.9" y="625" font-size="27" text-anchor="middle">-4</text>
<line x1="1305.9" y1="579.3" x2="1305.9" y2="593" stroke="#000" stroke-width="4.2"/>
<text x="1300.4" y="625" font-size="27" text-anchor="middle">-3</text>
<line x1="1366.4" y1="579.3" x2="1366.4" y2="593" stroke="#000" stroke-width="4.2"/>
<text x="1360.9" y="625" font-size="27" text-anchor="middle">-2</text>
<line x1="1426.9" y1="579.3" x2="1426.9" y2="593" stroke="#000" stroke-width="4.2"/>
<text x="1421.4" y="625" font-size="27" text-anchor="middle">-1</text>
<line x1="1487.4" y1="579.3" x2="1487.4" y2="593" stroke="#000" stroke-width="4.2"/>
<text x="1485.9" y="625" font-size="27" text-anchor="middle">0</text>
<line x1="1547.9" y1="579.3" x2="1547.9" y2="593" stroke="#000" stroke-width="4.2"/>
<text x="1546.4" y="625" font-size="27" text-anchor="middle">1</text>
<line x1="1608.4" y1="579.3" x2="1608.4" y2="593" stroke="#000" stroke-width="4.2"/>
<text x="1606.9" y="625" font-size="27" text-anchor="middle">2</text>
<line x1="1668.9" y1="579.3" x2="1668.9" y2="593" stroke="#000" stroke-width="4.2"/>
<text x="1667.4" y="625" font-size="27" text-anchor="middle">3</text>
<line x1="1729.4" y1="579.3" x2="1729.4" y2="593" stroke="#000" stroke-width="4.2"/>
<text x="1727" y="617.5" font-size="27" text-anchor="middle">4</text>
<text x="1789" y="600.5" font-size="27" text-anchor="middle">5</text>
<text x="1501.8" y="655.8" font-size="28.3" text-anchor="middle">log2FoldChange</text>
<text font-size="28.5" text-anchor="middle" transform="translate(1107 326.6) rotate(-90)">–log10(PADJ)</text>
<circle cx="1265.9" cy="87.2" r="5.3" fill="#ff0000"/>
<circle cx="1293.5" cy="281.7" r="5.3" fill="#ff0000"/>
<circle cx="1322.1" cy="275.7" r="5.3" fill="#ff0000"/>
<circle cx="1316.8" cy="284.6" r="5.3" fill="#ff0000"/>
<circle cx="1313.9" cy="294.6" r="5.3" fill="#ff0000"/>
<circle cx="1283.6" cy="369.4" r="5.3" fill="#ff0000"/>
<circle cx="1361.6" cy="370.8" r="5.3" fill="#ff0000"/>
<circle cx="1308.1" cy="392.6" r="5.3" fill="#ff0000"/>
<circle cx="1359.6" cy="395" r="5.3" fill="#ff0000"/>
<circle cx="1354.3" cy="412.5" r="5.3" fill="#ff0000"/>
<circle cx="1364" cy="413" r="5.3" fill="#ff0000"/>
<circle cx="1386.3" cy="414.9" r="5.3" fill="#ff0000"/>
<circle cx="1341.5" cy="427" r="5.3" fill="#ff0000"/>
<circle cx="1397.2" cy="462.1" r="5.3" fill="#ff0000"/>
<circle cx="1388.7" cy="464.5" r="5.3" fill="#ff0000"/>
<circle cx="1370.5" cy="473.7" r="5.3" fill="#ff0000"/>
<circle cx="1686.3" cy="156.9" r="5.3" fill="#0000c8"/>
<circle cx="1636.9" cy="297.3" r="5.3" fill="#0000c8"/>
<circle cx="1642.2" cy="320.3" r="5.3" fill="#0000c8"/>
<circle cx="1669.6" cy="326.4" r="5.3" fill="#0000c8"/>
<circle cx="1691.8" cy="330" r="5.3" fill="#0000c8"/>
<circle cx="1673" cy="347.7" r="5.3" fill="#0000c8"/>
<circle cx="1762.5" cy="344.5" r="5.3" fill="#0000c8"/>
<text x="1285.4" y="135.8" font-size="30.2" text-anchor="middle">PSAT1</text>
<line x1="1266.4" y1="94" x2="1268.3" y2="108.5" stroke="#000" stroke-width="2"/>
<text x="1256.5" y="268" font-size="30.2" text-anchor="middle">TP53</text>
<line x1="1277.5" y1="267.3" x2="1290.5" y2="276.5" stroke="#000" stroke-width="2"/>
<text x="1362.5" y="252.5" font-size="30.2" text-anchor="middle">PCK2</text>
<line x1="1334.5" y1="254.8" x2="1325" y2="268" stroke="#000" stroke-width="2"/>
<text x="1398.3" y="290.3" font-size="30.2" text-anchor="middle">PHGDH</text>
<line x1="1325.5" y1="285.8" x2="1341.5" y2="283" stroke="#000" stroke-width="2"/>
<text x="1253" y="350.5" font-size="30.2" text-anchor="middle">NNMT</text>
<line x1="1266" y1="353.5" x2="1279.5" y2="362.5" stroke="#000" stroke-width="2"/>
<text x="1424" y="351" font-size="30.2" text-anchor="middle">SLC1A5</text>
<line x1="1375.5" y1="353.5" x2="1365.5" y2="366" stroke="#000" stroke-width="2"/>
<text x="1249.5" y="409.5" font-size="30.2" text-anchor="middle">JDP2</text>
<line x1="1286" y1="398" x2="1301" y2="395.5" stroke="#000" stroke-width="2"/>
<text x="1450.5" y="396.5" font-size="30.2" text-anchor="middle">SHMT2</text>
<line x1="1397" y1="396" x2="1390.5" y2="410" stroke="#000" stroke-width="2"/>
<text x="1265.8" y="459.5" font-size="30.2" text-anchor="middle">SLC1A4</text>
<line x1="1325.5" y1="441.5" x2="1338" y2="432" stroke="#000" stroke-width="2"/>
<text x="1464" y="441" font-size="30.2" text-anchor="middle">SLC7A5</text>
<line x1="1408" y1="441.5" x2="1395" y2="457" stroke="#000" stroke-width="2"/>
<text x="1482.5" y="468" font-size="30.2" text-anchor="middle">SLC3A2</text>
<line x1="1403.5" y1="463.5" x2="1418.5" y2="460.5" stroke="#000" stroke-width="2"/>
<text x="1292" y="494.5" font-size="30.2" text-anchor="middle">CTH</text>
<line x1="1329.5" y1="487" x2="1366" y2="475.5" stroke="#000" stroke-width="2"/>
<text x="1747.5" y="158.1" font-size="30.2" text-anchor="middle">CST1</text>
<line x1="1692.3" y1="153.3" x2="1708.8" y2="150.1" stroke="#000" stroke-width="2"/>
<text x="1648.3" y="270.2" font-size="30.2" text-anchor="middle">SOX4</text>
<line x1="1636.6" y1="272.4" x2="1636.9" y2="288.8" stroke="#000" stroke-width="2"/>
<text x="1735.6" y="302.2" font-size="30.2" text-anchor="middle">SPOCK3</text>
<line x1="1683.4" y1="309.9" x2="1672.5" y2="321.5" stroke="#000" stroke-width="2"/>
<text x="1579.8" y="338.5" font-size="30.2" text-anchor="middle">CST4</text>
<line x1="1620.4" y1="327.1" x2="1636.6" y2="323.9" stroke="#000" stroke-width="2"/>
<text x="1751.5" y="336" font-size="30.2" text-anchor="middle">STC1</text>
<line x1="1697.9" y1="330" x2="1714.8" y2="330.7" stroke="#000" stroke-width="2"/>
<text x="1782" y="385.7" font-size="30.2" text-anchor="middle">A2M</text>
<line x1="1764" y1="351.8" x2="1768.1" y2="366.3" stroke="#000" stroke-width="2"/>
<text x="0.2" y="741.2" font-size="30.5" font-weight="bold">c</text>
<text x="420.3" y="782" font-size="31" text-anchor="middle">MDA-231</text>
<rect x="140.5" y="1121.8" width="19.4" height="33" fill="#5c5cf7" stroke="#0000c0" stroke-width="4.2"/>
<rect x="166.4" y="1062.8" width="19.4" height="92.1" fill="url(#hb)" stroke="#0000c0" stroke-width="4.2"/>
<rect x="192.3" y="1142.9" width="19.4" height="12" fill="#ff8080" stroke="#ff0000" stroke-width="4.2"/>
<rect x="218.2" y="1118.2" width="19.4" height="36.7" fill="url(#hr)" stroke="#ff0000" stroke-width="4.2"/>
<rect x="267.8" y="1121.8" width="19.4" height="33" fill="#5c5cf7" stroke="#0000c0" stroke-width="4.2"/>
<rect x="293.6" y="979.4" width="19.4" height="175.5" fill="url(#hb)" stroke="#0000c0" stroke-width="4.2"/>
<rect x="319.6" y="1140" width="19.4" height="14.9" fill="#ff8080" stroke="#ff0000" stroke-width="4.2"/>
<rect x="345.4" y="1113.9" width="19.4" height="41" fill="url(#hr)" stroke="#ff0000" stroke-width="4.2"/>
<rect x="395" y="1121.8" width="19.4" height="33" fill="#5c5cf7" stroke="#0000c0" stroke-width="4.2"/>
<rect x="420.9" y="1034.1" width="19.4" height="120.8" fill="url(#hb)" stroke="#0000c0" stroke-width="4.2"/>
<rect x="446.8" y="1144.3" width="19.4" height="10.6" fill="#ff8080" stroke="#ff0000" stroke-width="4.2"/>
<rect x="472.7" y="1108.1" width="19.4" height="46.8" fill="url(#hr)" stroke="#ff0000" stroke-width="4.2"/>
<rect x="522.2" y="1121.8" width="19.4" height="33" fill="#5c5cf7" stroke="#0000c0" stroke-width="4.2"/>
<rect x="548.1" y="856.5" width="19.4" height="298.4" fill="url(#hb)" stroke="#0000c0" stroke-width="4.2"/>
<rect x="574" y="1150.8" width="19.4" height="4" fill="#ff8080" stroke="#ff0000" stroke-width="4.2"/>
<rect x="599.9" y="1103" width="19.4" height="51.9" fill="url(#hr)" stroke="#ff0000" stroke-width="4.2"/>
<rect x="649.5" y="1121.8" width="19.4" height="33" fill="#5c5cf7" stroke="#0000c0" stroke-width="4.2"/>
<rect x="675.4" y="1038.1" width="19.4" height="116.8" fill="url(#hb)" stroke="#0000c0" stroke-width="4.2"/>
<rect x="701.3" y="1132.7" width="19.4" height="22.2" fill="#ff8080" stroke="#ff0000" stroke-width="4.2"/>
<rect x="727.2" y="1108.4" width="19.4" height="46.5" fill="url(#hr)" stroke="#ff0000" stroke-width="4.2"/>
<line x1="176.3" y1="1030.1" x2="176.3" y2="1093" stroke="#000" stroke-width="2"/>
<line x1="170.8" y1="1030.1" x2="181.8" y2="1030.1" stroke="#000" stroke-width="2"/>
<line x1="303.2" y1="893.1" x2="303.2" y2="1059.3" stroke="#000" stroke-width="2"/>
<line x1="297.7" y1="893.1" x2="308.7" y2="893.1" stroke="#000" stroke-width="2"/>
<line x1="430.4" y1="1013.8" x2="430.4" y2="1039" stroke="#000" stroke-width="2"/>
<line x1="424.9" y1="1013.8" x2="435.9" y2="1013.8" stroke="#000" stroke-width="2"/>
<line x1="557.9" y1="815.5" x2="557.9" y2="897" stroke="#000" stroke-width="2"/>
<line x1="552.4" y1="815.5" x2="563.4" y2="815.5" stroke="#000" stroke-width="2"/>
<line x1="687" y1="1018.4" x2="687" y2="1056" stroke="#000" stroke-width="2"/>
<line x1="681.5" y1="1018.4" x2="692.5" y2="1018.4" stroke="#000" stroke-width="2"/>
<line x1="227.5" y1="1104.5" x2="227.5" y2="1130" stroke="#000" stroke-width="2"/>
<line x1="222" y1="1104.5" x2="233" y2="1104.5" stroke="#000" stroke-width="2"/>
<line x1="354.2" y1="1090.1" x2="354.2" y2="1122" stroke="#000" stroke-width="2"/>
<line x1="348.7" y1="1090.1" x2="359.7" y2="1090.1" stroke="#000" stroke-width="2"/>
<line x1="482.2" y1="1083.8" x2="482.2" y2="1134" stroke="#000" stroke-width="2"/>
<line x1="476.7" y1="1083.8" x2="487.7" y2="1083.8" stroke="#000" stroke-width="2"/>
<line x1="609.6" y1="1068.3" x2="609.6" y2="1134" stroke="#000" stroke-width="2"/>
<line x1="604.1" y1="1068.3" x2="615.1" y2="1068.3" stroke="#000" stroke-width="2"/>
<line x1="738" y1="1098.2" x2="738" y2="1117" stroke="#000" stroke-width="2"/>
<line x1="732.5" y1="1098.2" x2="743.5" y2="1098.2" stroke="#000" stroke-width="2"/>
<circle cx="144.9" cy="1119.8" r="6.8" fill="#0000c8" stroke="#000" stroke-width="1.5"/>
<circle cx="150.4" cy="1119.8" r="6.8" fill="#0000c8" stroke="#000" stroke-width="1.5"/>
<circle cx="155.9" cy="1119.8" r="6.8" fill="#0000c8" stroke="#000" stroke-width="1.5"/>
<circle cx="272.1" cy="1119.8" r="6.8" fill="#0000c8" stroke="#000" stroke-width="1.5"/>
<circle cx="277.6" cy="1119.8" r="6.8" fill="#0000c8" stroke="#000" stroke-width="1.5"/>
<circle cx="283.1" cy="1119.8" r="6.8" fill="#0000c8" stroke="#000" stroke-width="1.5"/>
<circle cx="399.4" cy="1119.8" r="6.8" fill="#0000c8" stroke="#000" stroke-width="1.5"/>
<circle cx="404.9" cy="1119.8" r="6.8" fill="#0000c8" stroke="#000" stroke-width="1.5"/>
<circle cx="410.4" cy="1119.8" r="6.8" fill="#0000c8" stroke="#000" stroke-width="1.5"/>
<circle cx="526.6" cy="1119.8" r="6.8" fill="#0000c8" stroke="#000" stroke-width="1.5"/>
<circle cx="532.1" cy="1119.8" r="6.8" fill="#0000c8" stroke="#000" stroke-width="1.5"/>
<circle cx="537.6" cy="1119.8" r="6.8" fill="#0000c8" stroke="#000" stroke-width="1.5"/>
<circle cx="653.9" cy="1119.8" r="6.8" fill="#0000c8" stroke="#000" stroke-width="1.5"/>
<circle cx="659.4" cy="1119.8" r="6.8" fill="#0000c8" stroke="#000" stroke-width="1.5"/>
<circle cx="664.9" cy="1119.8" r="6.8" fill="#0000c8" stroke="#000" stroke-width="1.5"/>
<circle cx="181.2" cy="1039.1" r="7.5" fill="#000"/>
<path d="M181.8 1033.1A6 6 0 0 1 181.8 1045.1Z" fill="#0000c8"/>
<circle cx="175.7" cy="1048.4" r="7.5" fill="#000"/>
<path d="M176.3 1042.4A6 6 0 0 1 176.3 1054.4Z" fill="#0000c8"/>
<circle cx="176.3" cy="1093.3" r="7.5" fill="#000"/>
<path d="M176.9 1087.3A6 6 0 0 1 176.9 1099.3Z" fill="#0000c8"/>
<circle cx="303.2" cy="882.5" r="7.5" fill="#000"/>
<path d="M303.8 876.5A6 6 0 0 1 303.8 888.5Z" fill="#0000c8"/>
<circle cx="302.4" cy="1007" r="7.5" fill="#000"/>
<path d="M303 1001A6 6 0 0 1 303 1013Z" fill="#0000c8"/>
<circle cx="302.4" cy="1041" r="7.5" fill="#000"/>
<path d="M303 1035A6 6 0 0 1 303 1047Z" fill="#0000c8"/>
<circle cx="430.4" cy="1013.8" r="7.5" fill="#000"/>
<path d="M431 1007.8A6 6 0 0 1 431 1019.8Z" fill="#0000c8"/>
<circle cx="425" cy="1039.7" r="7.5" fill="#000"/>
<path d="M425.6 1033.7A6 6 0 0 1 425.6 1045.7Z" fill="#0000c8"/>
<circle cx="435.9" cy="1039.1" r="7.5" fill="#000"/>
<path d="M436.5 1033.1A6 6 0 0 1 436.5 1045.1Z" fill="#0000c8"/>
<circle cx="553" cy="833.2" r="7.5" fill="#000"/>
<path d="M553.6 827.2A6 6 0 0 1 553.6 839.2Z" fill="#0000c8"/>
<circle cx="563" cy="831.3" r="7.5" fill="#000"/>
<path d="M563.6 825.3A6 6 0 0 1 563.6 837.3Z" fill="#0000c8"/>
<circle cx="557.9" cy="897.5" r="7.5" fill="#000"/>
<path d="M558.5 891.5A6 6 0 0 1 558.5 903.5Z" fill="#0000c8"/>
<circle cx="690" cy="1018.4" r="7.5" fill="#000"/>
<path d="M690.6 1012.4A6 6 0 0 1 690.6 1024.4Z" fill="#0000c8"/>
<circle cx="684.5" cy="1032" r="7.5" fill="#000"/>
<path d="M685.1 1026A6 6 0 0 1 685.1 1038Z" fill="#0000c8"/>
<circle cx="684.5" cy="1056" r="7.5" fill="#000"/>
<path d="M685.1 1050A6 6 0 0 1 685.1 1062Z" fill="#0000c8"/>
<circle cx="202.2" cy="1133.7" r="6.8" fill="#ff0000" stroke="#000" stroke-width="1.5"/>
<circle cx="207.1" cy="1140.5" r="6.8" fill="#ff0000" stroke="#000" stroke-width="1.5"/>
<circle cx="197" cy="1147.3" r="6.8" fill="#ff0000" stroke="#000" stroke-width="1.5"/>
<circle cx="329.1" cy="1129.6" r="6.8" fill="#ff0000" stroke="#000" stroke-width="1.5"/>
<circle cx="324.2" cy="1136.4" r="6.8" fill="#ff0000" stroke="#000" stroke-width="1.5"/>
<circle cx="333.7" cy="1135" r="6.8" fill="#ff0000" stroke="#000" stroke-width="1.5"/>
<circle cx="457.1" cy="1135" r="6.8" fill="#ff0000" stroke="#000" stroke-width="1.5"/>
<circle cx="451.4" cy="1141" r="6.8" fill="#ff0000" stroke="#000" stroke-width="1.5"/>
<circle cx="461.7" cy="1139.1" r="6.8" fill="#ff0000" stroke="#000" stroke-width="1.5"/>
<circle cx="583.8" cy="1140.5" r="6.8" fill="#ff0000" stroke="#000" stroke-width="1.5"/>
<circle cx="578.3" cy="1147.8" r="6.8" fill="#ff0000" stroke="#000" stroke-width="1.5"/>
<circle cx="588.9" cy="1145.9" r="6.8" fill="#ff0000" stroke="#000" stroke-width="1.5"/>
<circle cx="711" cy="1125.5" r="6.8" fill="#ff0000" stroke="#000" stroke-width="1.5"/>
<circle cx="717.8" cy="1127.7" r="6.8" fill="#ff0000" stroke="#000" stroke-width="1.5"/>
<circle cx="706.1" cy="1137.2" r="6.8" fill="#ff0000" stroke="#000" stroke-width="1.5"/>
<circle cx="233.8" cy="1104.5" r="7.5" fill="#000"/>
<path d="M234.4 1098.5A6 6 0 0 1 234.4 1110.5Z" fill="#ff0000"/>
<circle cx="226.7" cy="1109.7" r="7.5" fill="#000"/>
<path d="M227.3 1103.7A6 6 0 0 1 227.3 1115.7Z" fill="#ff0000"/>
<circle cx="227.5" cy="1130.4" r="7.5" fill="#000"/>
<path d="M228.1 1124.4A6 6 0 0 1 228.1 1136.4Z" fill="#ff0000"/>
<circle cx="354.2" cy="1090.1" r="7.5" fill="#000"/>
<path d="M354.8 1084.1A6 6 0 0 1 354.8 1096.1Z" fill="#ff0000"/>
<circle cx="349.3" cy="1122.8" r="7.5" fill="#000"/>
<path d="M349.9 1116.8A6 6 0 0 1 349.9 1128.8Z" fill="#ff0000"/>
<circle cx="359.6" cy="1118.7" r="7.5" fill="#000"/>
<path d="M360.2 1112.7A6 6 0 0 1 360.2 1124.7Z" fill="#ff0000"/>
<circle cx="482.2" cy="1083.8" r="7.5" fill="#000"/>
<path d="M482.8 1077.8A6 6 0 0 1 482.8 1089.8Z" fill="#ff0000"/>
<circle cx="482.2" cy="1098.2" r="7.5" fill="#000"/>
<path d="M482.8 1092.2A6 6 0 0 1 482.8 1104.2Z" fill="#ff0000"/>
<circle cx="482.2" cy="1134.2" r="7.5" fill="#000"/>
<path d="M482.8 1128.2A6 6 0 0 1 482.8 1140.2Z" fill="#ff0000"/>
<circle cx="609.6" cy="1068.3" r="7.5" fill="#000"/>
<path d="M610.2 1062.3A6 6 0 0 1 610.2 1074.3Z" fill="#ff0000"/>
<circle cx="609.6" cy="1095.5" r="7.5" fill="#000"/>
<path d="M610.2 1089.5A6 6 0 0 1 610.2 1101.5Z" fill="#ff0000"/>
<circle cx="609.6" cy="1134.5" r="7.5" fill="#000"/>
<path d="M610.2 1128.5A6 6 0 0 1 610.2 1140.5Z" fill="#ff0000"/>
<circle cx="742.3" cy="1098.2" r="7.5" fill="#000"/>
<path d="M742.9 1092.2A6 6 0 0 1 742.9 1104.2Z" fill="#ff0000"/>
<circle cx="735.5" cy="1101.8" r="7.5" fill="#000"/>
<path d="M736.1 1095.8A6 6 0 0 1 736.1 1107.8Z" fill="#ff0000"/>
<circle cx="736.3" cy="1117.3" r="7.5" fill="#000"/>
<path d="M736.9 1111.3A6 6 0 0 1 736.9 1123.3Z" fill="#ff0000"/>
<line x1="133.2" y1="1120" x2="760" y2="1120" stroke="#000" stroke-width="4.6" stroke-linecap="round" stroke-dasharray="0.1 13.8"/>
<line x1="126.7" y1="791" x2="126.7" y2="1158" stroke="#000" stroke-width="4.2" stroke-linecap="round"/>
<line x1="111" y1="1156" x2="764" y2="1156" stroke="#000" stroke-width="4.2" stroke-linecap="round"/>
<line x1="111" y1="1156" x2="126.7" y2="1156" stroke="#000" stroke-width="4.2" stroke-linecap="round"/>
<text x="107.5" y="1161.3" font-size="28.5" text-anchor="end">0</text>
<line x1="111" y1="1083.5" x2="126.7" y2="1083.5" stroke="#000" stroke-width="4.2" stroke-linecap="round"/>
<text x="107.5" y="1088.8" font-size="28.5" text-anchor="end">2</text>
<line x1="111" y1="1011" x2="126.7" y2="1011" stroke="#000" stroke-width="4.2" stroke-linecap="round"/>
<text x="107.5" y="1016.3" font-size="28.5" text-anchor="end">4</text>
<line x1="111" y1="938.5" x2="126.7" y2="938.5" stroke="#000" stroke-width="4.2" stroke-linecap="round"/>
<text x="107.5" y="943.8" font-size="28.5" text-anchor="end">6</text>
<line x1="111" y1="866" x2="126.7" y2="866" stroke="#000" stroke-width="4.2" stroke-linecap="round"/>
<text x="107.5" y="871.3" font-size="28.5" text-anchor="end">8</text>
<line x1="111" y1="793.5" x2="126.7" y2="793.5" stroke="#000" stroke-width="4.2" stroke-linecap="round"/>
<text x="107.5" y="798.8" font-size="28.5" text-anchor="end">10</text>
<line x1="188.8" y1="1156" x2="188.8" y2="1170.4" stroke="#000" stroke-width="4.2"/>
<line x1="316" y1="1156" x2="316" y2="1170.4" stroke="#000" stroke-width="4.2"/>
<line x1="443.2" y1="1156" x2="443.2" y2="1170.4" stroke="#000" stroke-width="4.2"/>
<line x1="570.4" y1="1156" x2="570.4" y2="1170.4" stroke="#000" stroke-width="4.2"/>
<line x1="697.6" y1="1156" x2="697.6" y2="1170.4" stroke="#000" stroke-width="4.2"/>
<text font-size="28.5" text-anchor="end" font-style="italic" transform="translate(211.8 1191.4) rotate(-45)">SLC7A5</text>
<text font-size="28.5" text-anchor="end" font-style="italic" transform="translate(343.8 1190.4) rotate(-45)">SLC3A2</text>
<text font-size="28.5" text-anchor="end" font-style="italic" transform="translate(470.6 1191.4) rotate(-45)">PHGDH</text>
<text font-size="28.5" text-anchor="end" font-style="italic" transform="translate(597 1188.4) rotate(-45)">PSAT1</text>
<text font-size="28.5" text-anchor="end" font-style="italic" transform="translate(727.9 1190.4) rotate(-45)">PSPH</text>
<text font-size="28.5" text-anchor="middle" transform="translate(65 966) rotate(-90)">mRNA expression levels</text>
<text x="167.3" y="1009.2" font-size="18.8" text-anchor="middle">p=0.009</text>
<line x1="146.6" y1="1016.5" x2="178.5" y2="1016.5" stroke="#000" stroke-width="2.2"/>
<text x="212.5" y="1074.5" font-size="18.8" text-anchor="middle">n.s</text>
<line x1="197" y1="1082.7" x2="228.9" y2="1082.7" stroke="#000" stroke-width="2.2"/>
<text x="286.7" y="861.3" font-size="18.8" text-anchor="middle">p=0.01</text>
<line x1="271.1" y1="867.2" x2="303.2" y2="867.2" stroke="#000" stroke-width="2.2"/>
<text x="339.5" y="1066.4" font-size="18.8" text-anchor="middle">n.s</text>
<line x1="323.6" y1="1074.5" x2="356" y2="1074.5" stroke="#000" stroke-width="2.2"/>
<text x="414.1" y="992" font-size="18.8" text-anchor="middle">p=0.0004</text>
<line x1="399.1" y1="997.5" x2="431.8" y2="997.5" stroke="#000" stroke-width="2.2"/>
<text x="465.5" y="1060" font-size="18.8" text-anchor="middle">n.s</text>
<line x1="449" y1="1068.3" x2="481.5" y2="1068.3" stroke="#000" stroke-width="2.2"/>
<text x="540.7" y="798.6" font-size="18.8" text-anchor="middle">p&lt;0.0001</text>
<line x1="523.6" y1="805.4" x2="555.2" y2="805.4" stroke="#000" stroke-width="2.2"/>
<text x="597" y="1039.1" font-size="18.8" text-anchor="middle">n.s</text>
<line x1="581" y1="1047" x2="612.9" y2="1047" stroke="#000" stroke-width="2.2"/>
<text x="667.6" y="997.5" font-size="18.8" text-anchor="middle">p&lt;0.0001</text>
<line x1="655.1" y1="1003.4" x2="687.3" y2="1003.4" stroke="#000" stroke-width="2.2"/>
<text x="721.5" y="1071" font-size="18.8" text-anchor="middle">n.s</text>
<line x1="705.5" y1="1079.2" x2="737.4" y2="1079.2" stroke="#000" stroke-width="2.2"/>
<rect x="652.1" y="786.2" width="46.6" height="24.3" fill="#5c5cf7" stroke="#0000c0" stroke-width="4.8" stroke-linejoin="round"/>
<text x="707" y="808.6" font-size="28.6">siCTL CM</text>
<rect x="652.1" y="818.7" width="46.6" height="24.3" fill="url(#lb)" stroke="#0000c0" stroke-width="4.8" stroke-linejoin="round"/>
<text x="707" y="841.1" font-size="28.6">siCTL low AA</text>
<rect x="652.1" y="851.2" width="46.6" height="24.3" fill="#ff8080" stroke="#ff0000" stroke-width="4.8" stroke-linejoin="round"/>
<text x="707" y="873.6" font-size="28.6">sip53 CM</text>
<rect x="652.1" y="884.2" width="46.6" height="24.3" fill="url(#lr)" stroke="#ff0000" stroke-width="4.8" stroke-linejoin="round"/>
<text x="707" y="906.6" font-size="28.6">sip53 low AA</text>
<text x="921" y="740.5" font-size="30.5" font-weight="bold">d</text>
<text x="1327.5" y="758.5" font-size="31.8" text-anchor="middle">DCIS spheroids</text>
<text x="1332" y="797.5" font-size="31.8" text-anchor="middle">(TetOn mutp53)</text>
<rect x="1034.2" y="1139.6" width="21.2" height="9.8" fill="#5c5cf7" stroke="#0000c0" stroke-width="4.2"/>
<rect x="1060.8" y="1074.4" width="21.2" height="75.1" fill="url(#hb)" stroke="#0000c0" stroke-width="4.2"/>
<rect x="1087.5" y="1007.7" width="21.2" height="141.8" fill="#ff8080" stroke="#ff0000" stroke-width="4.2"/>
<rect x="1114.1" y="888.8" width="21.2" height="260.7" fill="url(#hr)" stroke="#ff0000" stroke-width="4.2"/>
<rect x="1161.8" y="1139.6" width="21.2" height="9.8" fill="#5c5cf7" stroke="#0000c0" stroke-width="4.2"/>
<rect x="1188.4" y="1123.7" width="21.2" height="25.8" fill="url(#hb)" stroke="#0000c0" stroke-width="4.2"/>
<rect x="1215.1" y="1090.3" width="21.2" height="59.1" fill="#ff8080" stroke="#ff0000" stroke-width="4.2"/>
<rect x="1241.7" y="1010.6" width="21.2" height="138.9" fill="url(#hr)" stroke="#ff0000" stroke-width="4.2"/>
<rect x="1289.4" y="1139.6" width="21.2" height="9.8" fill="#5c5cf7" stroke="#0000c0" stroke-width="4.2"/>
<rect x="1316" y="1119.3" width="21.2" height="30.1" fill="url(#hb)" stroke="#0000c0" stroke-width="4.2"/>
<rect x="1342.7" y="1099.6" width="21.2" height="49.9" fill="#ff8080" stroke="#ff0000" stroke-width="4.2"/>
<rect x="1369.3" y="1017.8" width="21.2" height="131.7" fill="url(#hr)" stroke="#ff0000" stroke-width="4.2"/>
<rect x="1417" y="1139.6" width="21.2" height="9.8" fill="#5c5cf7" stroke="#0000c0" stroke-width="4.2"/>
<rect x="1443.6" y="1112.1" width="21.2" height="37.4" fill="url(#hb)" stroke="#0000c0" stroke-width="4.2"/>
<rect x="1470.3" y="1107.7" width="21.2" height="41.8" fill="#ff8080" stroke="#ff0000" stroke-width="4.2"/>
<rect x="1496.9" y="1022.2" width="21.2" height="127.3" fill="url(#hr)" stroke="#ff0000" stroke-width="4.2"/>
<rect x="1544.6" y="1139.6" width="21.2" height="9.8" fill="#5c5cf7" stroke="#0000c0" stroke-width="4.2"/>
<rect x="1571.2" y="1122.2" width="21.2" height="27.3" fill="url(#hb)" stroke="#0000c0" stroke-width="4.2"/>
<rect x="1597.9" y="1101.9" width="21.2" height="47.5" fill="#ff8080" stroke="#ff0000" stroke-width="4.2"/>
<rect x="1624.5" y="1035.2" width="21.2" height="114.3" fill="url(#hr)" stroke="#ff0000" stroke-width="4.2"/>
<line x1="1071.6" y1="1032.4" x2="1071.6" y2="1112.8" stroke="#000" stroke-width="2"/>
<line x1="1066.1" y1="1032.4" x2="1077.1" y2="1032.4" stroke="#000" stroke-width="2"/>
<line x1="1066.1" y1="1112.8" x2="1077.1" y2="1112.8" stroke="#000" stroke-width="2"/>
<line x1="1098.6" y1="924.8" x2="1098.6" y2="1087" stroke="#000" stroke-width="2"/>
<line x1="1093.1" y1="924.8" x2="1104.1" y2="924.8" stroke="#000" stroke-width="2"/>
<line x1="1124.8" y1="816.7" x2="1124.8" y2="962" stroke="#000" stroke-width="2"/>
<line x1="1119.3" y1="816.7" x2="1130.3" y2="816.7" stroke="#000" stroke-width="2"/>
<line x1="1252" y1="942" x2="1252" y2="1074.6" stroke="#000" stroke-width="2"/>
<line x1="1246.5" y1="942" x2="1257.5" y2="942" stroke="#000" stroke-width="2"/>
<line x1="1246.5" y1="1074.6" x2="1257.5" y2="1074.6" stroke="#000" stroke-width="2"/>
<line x1="1225.5" y1="1069" x2="1225.5" y2="1100" stroke="#000" stroke-width="2"/>
<line x1="1199" y1="1110" x2="1199" y2="1126" stroke="#000" stroke-width="2"/>
<line x1="1193.5" y1="1110" x2="1204.5" y2="1110" stroke="#000" stroke-width="2"/>
<line x1="1380" y1="969.2" x2="1380" y2="1068" stroke="#000" stroke-width="2"/>
<line x1="1374.5" y1="969.2" x2="1385.5" y2="969.2" stroke="#000" stroke-width="2"/>
<line x1="1351" y1="1082" x2="1351" y2="1109" stroke="#000" stroke-width="2"/>
<line x1="1345.5" y1="1082" x2="1356.5" y2="1082" stroke="#000" stroke-width="2"/>
<line x1="1345.5" y1="1109" x2="1356.5" y2="1109" stroke="#000" stroke-width="2"/>
<line x1="1326" y1="1110" x2="1326" y2="1126" stroke="#000" stroke-width="2"/>
<line x1="1320.5" y1="1110" x2="1331.5" y2="1110" stroke="#000" stroke-width="2"/>
<line x1="1507.9" y1="988.8" x2="1507.9" y2="1058" stroke="#000" stroke-width="2"/>
<line x1="1502.4" y1="988.8" x2="1513.4" y2="988.8" stroke="#000" stroke-width="2"/>
<line x1="1480" y1="1087" x2="1480" y2="1120" stroke="#000" stroke-width="2"/>
<line x1="1453" y1="1097" x2="1453" y2="1122" stroke="#000" stroke-width="2"/>
<line x1="1447.5" y1="1097" x2="1458.5" y2="1097" stroke="#000" stroke-width="2"/>
<line x1="1635.1" y1="988.8" x2="1635.1" y2="1084" stroke="#000" stroke-width="2"/>
<line x1="1629.6" y1="988.8" x2="1640.6" y2="988.8" stroke="#000" stroke-width="2"/>
<line x1="1608" y1="1082" x2="1608" y2="1116" stroke="#000" stroke-width="2"/>
<line x1="1602.5" y1="1082" x2="1613.5" y2="1082" stroke="#000" stroke-width="2"/>
<line x1="1602.5" y1="1116" x2="1613.5" y2="1116" stroke="#000" stroke-width="2"/>
<line x1="1580" y1="1103" x2="1580" y2="1122" stroke="#000" stroke-width="2"/>
<line x1="1574.5" y1="1103" x2="1585.5" y2="1103" stroke="#000" stroke-width="2"/>
<circle cx="1034.7" cy="1136.3" r="6.8" fill="#0000c8" stroke="#000" stroke-width="1.5"/>
<circle cx="1041.7" cy="1136.3" r="6.8" fill="#0000c8" stroke="#000" stroke-width="1.5"/>
<circle cx="1048.8" cy="1136.3" r="6.8" fill="#0000c8" stroke="#000" stroke-width="1.5"/>
<circle cx="1055.8" cy="1136.3" r="6.8" fill="#0000c8" stroke="#000" stroke-width="1.5"/>
<circle cx="1162.3" cy="1136.3" r="6.8" fill="#0000c8" stroke="#000" stroke-width="1.5"/>
<circle cx="1169.3" cy="1136.3" r="6.8" fill="#0000c8" stroke="#000" stroke-width="1.5"/>
<circle cx="1176.4" cy="1136.3" r="6.8" fill="#0000c8" stroke="#000" stroke-width="1.5"/>
<circle cx="1183.4" cy="1136.3" r="6.8" fill="#0000c8" stroke="#000" stroke-width="1.5"/>
<circle cx="1289.9" cy="1136.3" r="6.8" fill="#0000c8" stroke="#000" stroke-width="1.5"/>
<circle cx="1296.9" cy="1136.3" r="6.8" fill="#0000c8" stroke="#000" stroke-width="1.5"/>
<circle cx="1304" cy="1136.3" r="6.8" fill="#0000c8" stroke="#000" stroke-width="1.5"/>
<circle cx="1311" cy="1136.3" r="6.8" fill="#0000c8" stroke="#000" stroke-width="1.5"/>
<circle cx="1417.5" cy="1136.3" r="6.8" fill="#0000c8" stroke="#000" stroke-width="1.5"/>
<circle cx="1424.5" cy="1136.3" r="6.8" fill="#0000c8" stroke="#000" stroke-width="1.5"/>
<circle cx="1431.6" cy="1136.3" r="6.8" fill="#0000c8" stroke="#000" stroke-width="1.5"/>
<circle cx="1438.6" cy="1136.3" r="6.8" fill="#0000c8" stroke="#000" stroke-width="1.5"/>
<circle cx="1545.1" cy="1136.3" r="6.8" fill="#0000c8" stroke="#000" stroke-width="1.5"/>
<circle cx="1552.1" cy="1136.3" r="6.8" fill="#0000c8" stroke="#000" stroke-width="1.5"/>
<circle cx="1559.2" cy="1136.3" r="6.8" fill="#0000c8" stroke="#000" stroke-width="1.5"/>
<circle cx="1566.2" cy="1136.3" r="6.8" fill="#0000c8" stroke="#000" stroke-width="1.5"/>
<circle cx="1071.6" cy="1015.5" r="7.5" fill="#000"/>
<path d="M1072.2 1009.5A6 6 0 0 1 1072.2 1021.5Z" fill="#0000c8"/>
<circle cx="1071.6" cy="1076" r="7.5" fill="#000"/>
<path d="M1072.2 1070A6 6 0 0 1 1072.2 1082Z" fill="#0000c8"/>
<circle cx="1066.2" cy="1099.7" r="7.5" fill="#000"/>
<path d="M1066.8 1093.7A6 6 0 0 1 1066.8 1105.7Z" fill="#0000c8"/>
<circle cx="1082.5" cy="1099.7" r="7.5" fill="#000"/>
<path d="M1083.1 1093.7A6 6 0 0 1 1083.1 1105.7Z" fill="#0000c8"/>
<circle cx="1188.8" cy="1114.1" r="7.5" fill="#000"/>
<path d="M1189.4 1108.1A6 6 0 0 1 1189.4 1120.1Z" fill="#0000c8"/>
<circle cx="1202.9" cy="1116.8" r="7.5" fill="#000"/>
<path d="M1203.5 1110.8A6 6 0 0 1 1203.5 1122.8Z" fill="#0000c8"/>
<circle cx="1209.7" cy="1112.8" r="7.5" fill="#000"/>
<path d="M1210.3 1106.8A6 6 0 0 1 1210.3 1118.8Z" fill="#0000c8"/>
<circle cx="1196.1" cy="1126.4" r="7.5" fill="#000"/>
<path d="M1196.7 1120.4A6 6 0 0 1 1196.7 1132.4Z" fill="#0000c8"/>
<circle cx="1316.5" cy="1114.1" r="7.5" fill="#000"/>
<path d="M1317.1 1108.1A6 6 0 0 1 1317.1 1120.1Z" fill="#0000c8"/>
<circle cx="1337" cy="1107.3" r="7.5" fill="#000"/>
<path d="M1337.6 1101.3A6 6 0 0 1 1337.6 1113.3Z" fill="#0000c8"/>
<circle cx="1331" cy="1119.6" r="7.5" fill="#000"/>
<path d="M1331.6 1113.6A6 6 0 0 1 1331.6 1125.6Z" fill="#0000c8"/>
<circle cx="1323.3" cy="1128.3" r="7.5" fill="#000"/>
<path d="M1323.9 1122.3A6 6 0 0 1 1323.9 1134.3Z" fill="#0000c8"/>
<circle cx="1443.7" cy="1103" r="7.5" fill="#000"/>
<path d="M1444.3 1097A6 6 0 0 1 1444.3 1109Z" fill="#0000c8"/>
<circle cx="1459.5" cy="1103.9" r="7.5" fill="#000"/>
<path d="M1460.1 1097.9A6 6 0 0 1 1460.1 1109.9Z" fill="#0000c8"/>
<circle cx="1466.4" cy="1108" r="7.5" fill="#000"/>
<path d="M1467 1102A6 6 0 0 1 1467 1114Z" fill="#0000c8"/>
<circle cx="1449.8" cy="1127.4" r="7.5" fill="#000"/>
<path d="M1450.4 1121.4A6 6 0 0 1 1450.4 1133.4Z" fill="#0000c8"/>
<circle cx="1570.7" cy="1117.7" r="7.5" fill="#000"/>
<path d="M1571.3 1111.7A6 6 0 0 1 1571.3 1123.7Z" fill="#0000c8"/>
<circle cx="1590.9" cy="1108.6" r="7.5" fill="#000"/>
<path d="M1591.5 1102.6A6 6 0 0 1 1591.5 1114.6Z" fill="#0000c8"/>
<circle cx="1582.6" cy="1120.4" r="7.5" fill="#000"/>
<path d="M1583.2 1114.4A6 6 0 0 1 1583.2 1126.4Z" fill="#0000c8"/>
<circle cx="1577" cy="1125.2" r="7.5" fill="#000"/>
<path d="M1577.6 1119.2A6 6 0 0 1 1577.6 1131.2Z" fill="#0000c8"/>
<circle cx="1098.6" cy="914.7" r="6.8" fill="#ff0000" stroke="#000" stroke-width="1.5"/>
<circle cx="1098.6" cy="963.5" r="6.8" fill="#ff0000" stroke="#000" stroke-width="1.5"/>
<circle cx="1098.6" cy="1056.9" r="6.8" fill="#ff0000" stroke="#000" stroke-width="1.5"/>
<circle cx="1098.6" cy="1087.7" r="6.8" fill="#ff0000" stroke="#000" stroke-width="1.5"/>
<circle cx="1225.5" cy="1069.7" r="6.8" fill="#ff0000" stroke="#000" stroke-width="1.5"/>
<circle cx="1225.5" cy="1084.2" r="6.8" fill="#ff0000" stroke="#000" stroke-width="1.5"/>
<circle cx="1225.5" cy="1093.7" r="6.8" fill="#ff0000" stroke="#000" stroke-width="1.5"/>
<circle cx="1225.5" cy="1103.8" r="6.8" fill="#ff0000" stroke="#000" stroke-width="1.5"/>
<circle cx="1343.2" cy="1084.2" r="6.8" fill="#ff0000" stroke="#000" stroke-width="1.5"/>
<circle cx="1348.1" cy="1115.5" r="6.8" fill="#ff0000" stroke="#000" stroke-width="1.5"/>
<circle cx="1358.2" cy="1092.9" r="6.8" fill="#ff0000" stroke="#000" stroke-width="1.5"/>
<circle cx="1365" cy="1095.6" r="6.8" fill="#ff0000" stroke="#000" stroke-width="1.5"/>
<circle cx="1480.8" cy="1087.3" r="6.8" fill="#ff0000" stroke="#000" stroke-width="1.5"/>
<circle cx="1480.2" cy="1105.2" r="6.8" fill="#ff0000" stroke="#000" stroke-width="1.5"/>
<circle cx="1480.8" cy="1111.3" r="6.8" fill="#ff0000" stroke="#000" stroke-width="1.5"/>
<circle cx="1480.8" cy="1120.4" r="6.8" fill="#ff0000" stroke="#000" stroke-width="1.5"/>
<circle cx="1598.3" cy="1078.1" r="6.8" fill="#ff0000" stroke="#000" stroke-width="1.5"/>
<circle cx="1614.4" cy="1095.6" r="6.8" fill="#ff0000" stroke="#000" stroke-width="1.5"/>
<circle cx="1619.9" cy="1105.8" r="6.8" fill="#ff0000" stroke="#000" stroke-width="1.5"/>
<circle cx="1603.3" cy="1119.1" r="6.8" fill="#ff0000" stroke="#000" stroke-width="1.5"/>
<circle cx="1124.8" cy="807.7" r="7.5" fill="#000"/>
<path d="M1125.4 801.7A6 6 0 0 1 1125.4 813.7Z" fill="#ff0000"/>
<circle cx="1124.8" cy="853.4" r="7.5" fill="#000"/>
<path d="M1125.4 847.4A6 6 0 0 1 1125.4 859.4Z" fill="#ff0000"/>
<circle cx="1124.8" cy="924.3" r="7.5" fill="#000"/>
<path d="M1125.4 918.3A6 6 0 0 1 1125.4 930.3Z" fill="#ff0000"/>
<circle cx="1124.8" cy="962.4" r="7.5" fill="#000"/>
<path d="M1125.4 956.4A6 6 0 0 1 1125.4 968.4Z" fill="#ff0000"/>
<circle cx="1246.5" cy="961.6" r="7.5" fill="#000"/>
<path d="M1247.1 955.6A6 6 0 0 1 1247.1 967.6Z" fill="#ff0000"/>
<circle cx="1263.4" cy="956.7" r="7.5" fill="#000"/>
<path d="M1264 950.7A6 6 0 0 1 1264 962.7Z" fill="#ff0000"/>
<circle cx="1252" cy="1018.8" r="7.5" fill="#000"/>
<path d="M1252.6 1012.8A6 6 0 0 1 1252.6 1024.8Z" fill="#ff0000"/>
<circle cx="1252" cy="1099.1" r="7.5" fill="#000"/>
<path d="M1252.6 1093.1A6 6 0 0 1 1252.6 1105.1Z" fill="#ff0000"/>
<circle cx="1380" cy="957.5" r="7.5" fill="#000"/>
<path d="M1380.6 951.5A6 6 0 0 1 1380.6 963.5Z" fill="#ff0000"/>
<circle cx="1369.1" cy="1009.2" r="7.5" fill="#000"/>
<path d="M1369.7 1003.2A6 6 0 0 1 1369.7 1015.2Z" fill="#ff0000"/>
<circle cx="1385.4" cy="1028.3" r="7.5" fill="#000"/>
<path d="M1386 1022.3A6 6 0 0 1 1386 1034.3Z" fill="#ff0000"/>
<circle cx="1380" cy="1067.8" r="7.5" fill="#000"/>
<path d="M1380.6 1061.8A6 6 0 0 1 1380.6 1073.8Z" fill="#ff0000"/>
<circle cx="1518.1" cy="987.4" r="7.5" fill="#000"/>
<path d="M1518.7 981.4A6 6 0 0 1 1518.7 993.4Z" fill="#ff0000"/>
<circle cx="1502.4" cy="1003.4" r="7.5" fill="#000"/>
<path d="M1503 997.4A6 6 0 0 1 1503 1009.4Z" fill="#ff0000"/>
<circle cx="1507.9" cy="1030.3" r="7.5" fill="#000"/>
<path d="M1508.5 1024.3A6 6 0 0 1 1508.5 1036.3Z" fill="#ff0000"/>
<circle cx="1507.9" cy="1058.2" r="7.5" fill="#000"/>
<path d="M1508.5 1052.2A6 6 0 0 1 1508.5 1064.2Z" fill="#ff0000"/>
<circle cx="1635.1" cy="978.5" r="7.5" fill="#000"/>
<path d="M1635.7 972.5A6 6 0 0 1 1635.7 984.5Z" fill="#ff0000"/>
<circle cx="1635.1" cy="1022.8" r="7.5" fill="#000"/>
<path d="M1635.7 1016.8A6 6 0 0 1 1635.7 1028.8Z" fill="#ff0000"/>
<circle cx="1635.1" cy="1044.9" r="7.5" fill="#000"/>
<path d="M1635.7 1038.9A6 6 0 0 1 1635.7 1050.9Z" fill="#ff0000"/>
<circle cx="1635.1" cy="1084.2" r="7.5" fill="#000"/>
<path d="M1635.7 1078.2A6 6 0 0 1 1635.7 1090.2Z" fill="#ff0000"/>
<line x1="1037.5" y1="1136.3" x2="1662" y2="1136.3" stroke="#000" stroke-width="4.6" stroke-linecap="round" stroke-dasharray="0.1 13.82"/>
<line x1="1024" y1="786" x2="1024" y2="1153" stroke="#000" stroke-width="4.8"/>
<line x1="1011" y1="1150.6" x2="1660" y2="1150.6" stroke="#000" stroke-width="4.8"/>
<line x1="1011" y1="1150.6" x2="1024" y2="1150.6" stroke="#000" stroke-width="4.8"/>
<text x="1006.5" y="1157.1" font-size="28.5" text-anchor="end">0</text>
<line x1="1011" y1="1078.1" x2="1024" y2="1078.1" stroke="#000" stroke-width="4.8"/>
<text x="1006.5" y="1084.6" font-size="28.5" text-anchor="end">5</text>
<line x1="1011" y1="1005.6" x2="1024" y2="1005.6" stroke="#000" stroke-width="4.8"/>
<text x="1006.5" y="1012.1" font-size="28.5" text-anchor="end">10</text>
<line x1="1011" y1="933.1" x2="1024" y2="933.1" stroke="#000" stroke-width="4.8"/>
<text x="1006.5" y="939.6" font-size="28.5" text-anchor="end">15</text>
<line x1="1011" y1="860.6" x2="1024" y2="860.6" stroke="#000" stroke-width="4.8"/>
<text x="1006.5" y="867.1" font-size="28.5" text-anchor="end">20</text>
<line x1="1011" y1="788.1" x2="1024" y2="788.1" stroke="#000" stroke-width="4.8"/>
<text x="1006.5" y="794.6" font-size="28.5" text-anchor="end">25</text>
<line x1="1084.4" y1="1150.6" x2="1084.4" y2="1163.5" stroke="#000" stroke-width="4.8"/>
<line x1="1212" y1="1150.6" x2="1212" y2="1163.5" stroke="#000" stroke-width="4.8"/>
<line x1="1339.5" y1="1150.6" x2="1339.5" y2="1163.5" stroke="#000" stroke-width="4.8"/>
<line x1="1467.1" y1="1150.6" x2="1467.1" y2="1163.5" stroke="#000" stroke-width="4.8"/>
<line x1="1594.6" y1="1150.6" x2="1594.6" y2="1163.5" stroke="#000" stroke-width="4.8"/>
<text font-size="28.5" text-anchor="end" font-style="italic" transform="translate(1123.4 1182.5) rotate(-45)">SLC7A5</text>
<text font-size="28.5" text-anchor="end" font-style="italic" transform="translate(1251 1182.5) rotate(-45)">SLC3A2</text>
<text font-size="28.5" text-anchor="end" font-style="italic" transform="translate(1378.5 1182.5) rotate(-45)">PHGDH</text>
<text font-size="28.5" text-anchor="end" font-style="italic" transform="translate(1500.7 1182.5) rotate(-45)">PSAT1</text>
<text font-size="28.5" text-anchor="end" font-style="italic" transform="translate(1626 1181) rotate(-45)">PSPH</text>
<text font-size="28.5" text-anchor="middle" transform="translate(957.5 968) rotate(-90)">mRNA expression levels</text>
<text x="1084.3" y="785.3" font-size="18.8" text-anchor="middle">p=0.005</text>
<line x1="1044.9" y1="792.1" x2="1124.5" y2="792.1" stroke="#000" stroke-width="2.2"/>
<text x="1069.5" y="889.4" font-size="18.8" text-anchor="middle">p=0.047</text>
<line x1="1039.5" y1="898.9" x2="1098.1" y2="898.9" stroke="#000" stroke-width="2.2"/>
<text x="1058.6" y="990.2" font-size="18.8" text-anchor="middle">p=0.049</text>
<line x1="1039.5" y1="997" x2="1070.8" y2="997" stroke="#000" stroke-width="2.2"/>
<text x="1217.3" y="926.7" font-size="18.8" text-anchor="middle">p=0.03</text>
<line x1="1172.4" y1="935.7" x2="1252.5" y2="935.7" stroke="#000" stroke-width="2.2"/>
<text x="1196.6" y="1048.2" font-size="18.8" text-anchor="middle">p=0.006</text>
<line x1="1167" y1="1054.2" x2="1225.5" y2="1054.2" stroke="#000" stroke-width="2.2"/>
<text x="1181.2" y="1085.5" font-size="18.8" text-anchor="middle">p=0.006</text>
<line x1="1167" y1="1093.7" x2="1198.9" y2="1093.7" stroke="#000" stroke-width="2.2"/>
<text x="1338.2" y="933" font-size="18.8" text-anchor="middle">p=0.01</text>
<line x1="1300.5" y1="940.6" x2="1380" y2="940.6" stroke="#000" stroke-width="2.2"/>
<text x="1321.2" y="1041.4" font-size="18.8" text-anchor="middle">p=0.01</text>
<line x1="1295" y1="1050.7" x2="1353.3" y2="1050.7" stroke="#000" stroke-width="2.2"/>
<text x="1311.9" y="1080" font-size="18.8" text-anchor="middle">p=0.03</text>
<line x1="1295" y1="1086.9" x2="1325.5" y2="1086.9" stroke="#000" stroke-width="2.2"/>
<text x="1471" y="961.4" font-size="18.8" text-anchor="middle">p=0.004</text>
<line x1="1428.5" y1="971.6" x2="1508.4" y2="971.6" stroke="#000" stroke-width="2.2"/>
<text x="1455.4" y="1038" font-size="18.8" text-anchor="middle">p=0.02</text>
<line x1="1425.4" y1="1047.7" x2="1483.8" y2="1047.7" stroke="#000" stroke-width="2.2"/>
<text x="1442.4" y="1075.4" font-size="18.8" text-anchor="middle">p=0.02</text>
<line x1="1426.3" y1="1080.9" x2="1458.1" y2="1080.9" stroke="#000" stroke-width="2.2"/>
<text x="1593.4" y="950.3" font-size="18.8" text-anchor="middle">p=0.02</text>
<line x1="1556.3" y1="962" x2="1636" y2="962" stroke="#000" stroke-width="2.2"/>
<text x="1580.8" y="1042.2" font-size="18.8" text-anchor="middle">p=0.02</text>
<line x1="1553" y1="1052.4" x2="1612.2" y2="1052.4" stroke="#000" stroke-width="2.2"/>
<text x="1560.2" y="1086.4" font-size="18.8" text-anchor="middle">p=0.01</text>
<line x1="1550.2" y1="1092.8" x2="1582.6" y2="1092.8" stroke="#000" stroke-width="2.2"/>
<rect x="1562.9" y="779.2" width="46.3" height="24.6" fill="#5c5cf7" stroke="#0000c0" stroke-width="4.8" stroke-linejoin="round"/>
<text x="1613.3" y="798.6" font-size="28.6">empty CM</text>
<rect x="1562.9" y="812.2" width="46.3" height="24.6" fill="url(#lb)" stroke="#0000c0" stroke-width="4.8" stroke-linejoin="round"/>
<text x="1613.3" y="831.6" font-size="28.6">empty low AA</text>
<rect x="1562.9" y="846.7" width="46.3" height="24.6" fill="#ff8080" stroke="#ff0000" stroke-width="4.8" stroke-linejoin="round"/>
<text x="1613.3" y="866.1" font-size="28.6">p53R280K CM</text>
<rect x="1562.9" y="880.9" width="46.3" height="24.6" fill="url(#lr)" stroke="#ff0000" stroke-width="4.8" stroke-linejoin="round"/>
<text x="1613.3" y="900.3" font-size="28.6">p53R280K low AA</text>
<text x="18" y="1343" font-size="30.5" font-weight="bold">e</text>
<ellipse cx="231.4" cy="1557.7" rx="108.2" ry="80.6" fill="none" stroke="#c1272d" stroke-width="3"/>
<ellipse cx="424.1" cy="1564.3" rx="108.4" ry="80.4" fill="none" stroke="#1c1ce8" stroke-width="3"/>
<text x="235.1" y="1550.2" font-size="30.6" text-anchor="middle">Up in</text>
<text x="235.5" y="1589.6" font-size="30.6" text-anchor="middle">Low AA</text>
<text x="419" y="1538.9" font-size="30.6" text-anchor="middle">Down in</text>
<text x="418.9" y="1577.2" font-size="30.6" text-anchor="middle">sip53</text>
<text x="419" y="1615.9" font-size="30.6" text-anchor="middle">Low AA</text>
<line x1="320.1" y1="1641.4" x2="320.1" y2="1680" stroke="#000" stroke-width="1.6"/>
<polygon points="314.6,1677.5 325.6,1677.5 320.1,1685" fill="#000"/>
<text x="324.1" y="1724" font-size="32.4" text-anchor="middle">mutp53-AA-metabolism</text>
<text x="324.2" y="1762.2" font-size="32.4" text-anchor="middle">signature</text>
<text x="324.6" y="1800.5" font-size="32.4" text-anchor="middle">(213 genes)</text>
<text x="702.5" y="1344.5" font-size="30.5" font-weight="bold">f</text>
<text x="960" y="1391.7" font-size="28.9" text-anchor="middle">Metabric (TP53 status)</text>
<line x1="875.2" y1="1432.6" x2="875.2" y2="1798.4" stroke="#000" stroke-width="4.2" stroke-linecap="round"/>
<line x1="856" y1="1796.4" x2="1059" y2="1796.4" stroke="#000" stroke-width="4.2" stroke-linecap="round"/>
<line x1="856" y1="1434.1" x2="875.2" y2="1434.1" stroke="#000" stroke-width="4.2" stroke-linecap="round"/>
<line x1="856" y1="1555.2" x2="875.2" y2="1555.2" stroke="#000" stroke-width="4.2" stroke-linecap="round"/>
<line x1="856" y1="1676.2" x2="875.2" y2="1676.2" stroke="#000" stroke-width="4.2" stroke-linecap="round"/>
<line x1="856" y1="1796.4" x2="875.2" y2="1796.4" stroke="#000" stroke-width="4.2" stroke-linecap="round"/>
<line x1="863.5" y1="1494.6" x2="875.2" y2="1494.6" stroke="#000" stroke-width="4.2" stroke-linecap="round"/>
<line x1="863.5" y1="1615.7" x2="875.2" y2="1615.7" stroke="#000" stroke-width="4.2" stroke-linecap="round"/>
<line x1="863.5" y1="1736.1" x2="875.2" y2="1736.1" stroke="#000" stroke-width="4.2" stroke-linecap="round"/>
<text x="849" y="1432.6" font-size="28.5" text-anchor="end">200</text>
<text x="849" y="1562.7" font-size="28.5" text-anchor="end">100</text>
<text x="849" y="1679.9" font-size="28.5" text-anchor="end">0</text>
<text x="849" y="1804" font-size="28.5" text-anchor="end">-100</text>
<line x1="926.7" y1="1796.4" x2="926.7" y2="1816.1" stroke="#000" stroke-width="4.2"/>
<line x1="1004.8" y1="1796.4" x2="1004.8" y2="1816.1" stroke="#000" stroke-width="4.2"/>
<text x="923.2" y="1845.5" font-size="28.5" text-anchor="middle">wt</text>
<text x="1008.8" y="1845.5" font-size="28.5" text-anchor="middle">missense</text>
<text font-size="28.2" text-anchor="middle" transform="translate(769.3 1616.5) rotate(-90)">mutp53-AA-metabolism signature</text>
<text font-size="22.9" text-anchor="middle" font-style="italic" transform="translate(797.4 1623.6) rotate(-90)">-average expression-</text>
<text x="973" y="1465" font-size="18.8" text-anchor="middle">p&lt;0.0001</text>
<line x1="933" y1="1476.5" x2="1007.8" y2="1476.5" stroke="#000" stroke-width="2.2"/>
<path d="M926.4 1485.2C926.4 1497.7 926.6 1546.4 926.4 1560.3C926.3 1574.2 925.7 1565.9 925.5 1568.7C925.3 1571.6 925.2 1574.2 925.2 1577.2C925.3 1580.3 926.1 1583.8 926.1 1587.1C926.1 1590.4 925.8 1593 925.2 1597C924.7 1601 923.6 1606.8 923 1611.1C922.3 1615.3 921.4 1619.5 921.3 1622.4C921.2 1625.2 922.5 1625.6 922.3 1628C922.1 1630.3 920.9 1633.2 920.2 1636.5C919.4 1639.8 919.2 1644.5 917.6 1647.7C916.1 1651 913.2 1653.6 911 1656.2C908.8 1658.8 906.1 1660.7 904.7 1663.3C903.2 1665.9 902.1 1668.9 902.1 1671.7C902.1 1674.6 904 1677.8 904.7 1680.2C905.3 1682.5 906.3 1683.7 906.1 1685.8C905.8 1688 903 1690.3 903 1692.9C903 1695.5 904.7 1698.5 906.1 1701.4C907.4 1704.2 909.2 1707 911 1709.8C912.8 1712.6 915 1715.9 916.6 1718.3C918.3 1720.6 919.7 1720.6 920.9 1723.9C922.1 1727.2 922.8 1733.1 923.7 1738C924.6 1743 926 1747.4 926.4 1753.6C926.9 1759.7 926.4 1771.2 926.4 1774.7L927.2 1774.7C927.2 1771.2 926.7 1759.7 927.2 1753.6C927.6 1747.4 929 1743 929.9 1738C930.8 1733.1 931.5 1727.2 932.7 1723.9C933.9 1720.6 935.3 1720.6 937 1718.3C938.6 1715.9 940.8 1712.6 942.6 1709.8C944.4 1707 946.2 1704.2 947.5 1701.4C948.9 1698.5 950.6 1695.5 950.6 1692.9C950.6 1690.3 947.8 1688 947.5 1685.8C947.3 1683.7 948.3 1682.5 948.9 1680.2C949.6 1677.8 951.5 1674.6 951.5 1671.7C951.5 1668.9 950.4 1665.9 948.9 1663.3C947.5 1660.7 944.8 1658.8 942.6 1656.2C940.4 1653.6 937.5 1651 936 1647.7C934.4 1644.5 934.2 1639.8 933.4 1636.5C932.7 1633.2 931.5 1630.3 931.3 1628C931.1 1625.6 932.4 1625.2 932.3 1622.4C932.2 1619.5 931.3 1615.3 930.6 1611.1C930 1606.8 928.9 1601 928.4 1597C927.8 1593 927.5 1590.4 927.5 1587.1C927.5 1583.8 928.3 1580.3 928.4 1577.2C928.4 1574.2 928.3 1571.6 928.1 1568.7C927.9 1565.9 927.3 1574.2 927.2 1560.3C927 1546.4 927.2 1497.7 927.2 1485.2Z" fill="#8080ff" stroke="#000" stroke-width="1.9" stroke-linejoin="round"/>
<line x1="904.7" y1="1680.2" x2="948.9" y2="1680.2" stroke="#000" stroke-width="1.8"/>
<path d="M1004.1 1560.3C1003.3 1560.3 1000.6 1560 999.6 1560.4C998.6 1560.9 998.6 1561.7 998.2 1563.1C997.7 1564.5 996.9 1566.4 996.8 1568.7C996.6 1571.1 997.1 1573.7 997.5 1577.2C997.9 1580.7 998.9 1585.9 999.2 1589.9C999.4 1593.9 999.9 1597.7 998.9 1601.2C997.9 1604.7 994.8 1607.1 993.2 1611.1C991.7 1615.1 991.4 1620.5 989.7 1625.2C988.1 1629.9 984.7 1635.1 983.4 1639.3C982.1 1643.5 982.4 1647 982 1650.6C981.5 1654.1 981 1657.2 980.5 1660.4C980.1 1663.7 979.2 1666.8 979.4 1670.3C979.6 1673.8 980.8 1677.4 982 1681.6C983.1 1685.8 984.3 1691 986.2 1695.7C988.1 1700.4 991.2 1706.1 993.2 1709.8C995.2 1713.6 997 1715 998.2 1718.3C999.3 1721.5 999.2 1727.4 1000.2 1729.3C1001.1 1731.2 1003.4 1729.5 1004.1 1729.6L1004.1 1729.6C1004.8 1729.5 1007.1 1731.2 1008 1729.3C1009 1727.4 1008.9 1721.5 1010 1718.3C1011.2 1715 1013 1713.6 1015 1709.8C1017 1706.1 1020.1 1700.4 1022 1695.7C1023.9 1691 1025.1 1685.8 1026.2 1681.6C1027.4 1677.4 1028.6 1673.8 1028.8 1670.3C1029 1666.8 1028.1 1663.7 1027.7 1660.4C1027.2 1657.2 1026.7 1654.1 1026.2 1650.6C1025.8 1647 1026.1 1643.5 1024.8 1639.3C1023.5 1635.1 1020.1 1629.9 1018.5 1625.2C1016.8 1620.5 1016.5 1615.1 1015 1611.1C1013.4 1607.1 1010.3 1604.7 1009.3 1601.2C1008.3 1597.7 1008.8 1593.9 1009 1589.9C1009.3 1585.9 1010.3 1580.7 1010.7 1577.2C1011.1 1573.7 1011.6 1571.1 1011.4 1568.7C1011.3 1566.4 1010.5 1564.5 1010 1563.1C1009.6 1561.7 1009.6 1560.9 1008.6 1560.4C1007.6 1560 1004.9 1560.3 1004.1 1560.3Z" fill="#ff8080" stroke="#000" stroke-width="1.9" stroke-linejoin="round"/>
<line x1="980.8" y1="1660.4" x2="1027.4" y2="1660.4" stroke="#000" stroke-width="1.8"/>
<text x="18" y="1976.5" font-size="30.5" font-weight="bold">g</text>
<text x="524.5" y="2040.7" font-size="31" text-anchor="middle">MDA-231</text>
<rect x="119.6" y="2369.1" width="22.3" height="69.3" fill="#5c5cf7" stroke="#0000c0" stroke-width="4.2"/>
<rect x="146.4" y="2293.7" width="22.3" height="144.7" fill="url(#hb)" stroke="#0000c0" stroke-width="4.2"/>
<rect x="173.2" y="2411.2" width="22.3" height="27.2" fill="#ff8080" stroke="#ff0000" stroke-width="4.2"/>
<rect x="199.9" y="2403.2" width="22.3" height="35.2" fill="url(#hr)" stroke="#ff0000" stroke-width="4.2"/>
<rect x="226.7" y="2382.2" width="22.3" height="56.2" fill="#b800c0" stroke="#4a0a63" stroke-width="4.2"/>
<rect x="253.5" y="2356.8" width="22.3" height="81.6" fill="url(#hp)" stroke="#4a0a63" stroke-width="4.2"/>
<rect x="302.1" y="2369.1" width="22.3" height="69.3" fill="#5c5cf7" stroke="#0000c0" stroke-width="4.2"/>
<rect x="328.9" y="2271.2" width="22.3" height="167.2" fill="url(#hb)" stroke="#0000c0" stroke-width="4.2"/>
<rect x="355.6" y="2383.6" width="22.3" height="54.8" fill="#ff8080" stroke="#ff0000" stroke-width="4.2"/>
<rect x="382.4" y="2387.2" width="22.3" height="51.2" fill="url(#hr)" stroke="#ff0000" stroke-width="4.2"/>
<rect x="409.2" y="2375.6" width="22.3" height="62.8" fill="#b800c0" stroke="#4a0a63" stroke-width="4.2"/>
<rect x="436" y="2354.6" width="22.3" height="83.8" fill="url(#hp)" stroke="#4a0a63" stroke-width="4.2"/>
<rect x="484.5" y="2369.1" width="22.3" height="69.3" fill="#5c5cf7" stroke="#0000c0" stroke-width="4.2"/>
<rect x="511.3" y="2198.7" width="22.3" height="239.7" fill="url(#hb)" stroke="#0000c0" stroke-width="4.2"/>
<rect x="538.1" y="2405.3" width="22.3" height="33" fill="#ff8080" stroke="#ff0000" stroke-width="4.2"/>
<rect x="564.9" y="2405.3" width="22.3" height="33" fill="url(#hr)" stroke="#ff0000" stroke-width="4.2"/>
<rect x="591.7" y="2414" width="22.3" height="24.4" fill="#b800c0" stroke="#4a0a63" stroke-width="4.2"/>
<rect x="618.4" y="2403.2" width="22.3" height="35.2" fill="url(#hp)" stroke="#4a0a63" stroke-width="4.2"/>
<rect x="667" y="2369.1" width="22.3" height="69.3" fill="#5c5cf7" stroke="#0000c0" stroke-width="4.2"/>
<rect x="693.8" y="2163.2" width="22.3" height="275.2" fill="url(#hb)" stroke="#0000c0" stroke-width="4.2"/>
<rect x="720.6" y="2406.1" width="22.3" height="32.3" fill="#ff8080" stroke="#ff0000" stroke-width="4.2"/>
<rect x="747.4" y="2411.9" width="22.3" height="26.5" fill="url(#hr)" stroke="#ff0000" stroke-width="4.2"/>
<rect x="774.1" y="2400.3" width="22.3" height="38.1" fill="#b800c0" stroke="#4a0a63" stroke-width="4.2"/>
<rect x="800.9" y="2394.5" width="22.3" height="43.9" fill="url(#hp)" stroke="#4a0a63" stroke-width="4.2"/>
<rect x="849.5" y="2369.1" width="22.3" height="69.3" fill="#5c5cf7" stroke="#0000c0" stroke-width="4.2"/>
<rect x="876.3" y="2264" width="22.3" height="174.4" fill="url(#hb)" stroke="#0000c0" stroke-width="4.2"/>
<rect x="903" y="2377.1" width="22.3" height="61.3" fill="#ff8080" stroke="#ff0000" stroke-width="4.2"/>
<rect x="929.8" y="2388.7" width="22.3" height="49.7" fill="url(#hr)" stroke="#ff0000" stroke-width="4.2"/>
<rect x="956.6" y="2382.2" width="22.3" height="56.2" fill="#b800c0" stroke="#4a0a63" stroke-width="4.2"/>
<rect x="983.4" y="2377.8" width="22.3" height="60.6" fill="url(#hp)" stroke="#4a0a63" stroke-width="4.2"/>
<line x1="157.5" y1="2282" x2="157.5" y2="2309" stroke="#000" stroke-width="2"/>
<line x1="237.4" y1="2372" x2="237.4" y2="2396" stroke="#000" stroke-width="2"/>
<line x1="231.9" y1="2372" x2="242.9" y2="2372" stroke="#000" stroke-width="2"/>
<line x1="264.5" y1="2332.7" x2="264.5" y2="2373" stroke="#000" stroke-width="2"/>
<line x1="259" y1="2332.7" x2="270" y2="2332.7" stroke="#000" stroke-width="2"/>
<line x1="210.5" y1="2392" x2="210.5" y2="2410" stroke="#000" stroke-width="2"/>
<line x1="205" y1="2392" x2="216" y2="2392" stroke="#000" stroke-width="2"/>
<line x1="339.8" y1="2241" x2="339.8" y2="2294" stroke="#000" stroke-width="2"/>
<line x1="388" y1="2369" x2="388" y2="2405" stroke="#000" stroke-width="2"/>
<line x1="382.5" y1="2369" x2="393.5" y2="2369" stroke="#000" stroke-width="2"/>
<line x1="425" y1="2366" x2="425" y2="2388" stroke="#000" stroke-width="2"/>
<line x1="446" y1="2332" x2="446" y2="2374" stroke="#000" stroke-width="2"/>
<line x1="440.5" y1="2332" x2="451.5" y2="2332" stroke="#000" stroke-width="2"/>
<line x1="522.2" y1="2133.5" x2="522.2" y2="2259" stroke="#000" stroke-width="2"/>
<line x1="516.7" y1="2133.5" x2="527.7" y2="2133.5" stroke="#000" stroke-width="2"/>
<line x1="552" y1="2392" x2="552" y2="2408" stroke="#000" stroke-width="2"/>
<line x1="546.5" y1="2392" x2="557.5" y2="2392" stroke="#000" stroke-width="2"/>
<line x1="575" y1="2389" x2="575" y2="2415" stroke="#000" stroke-width="2"/>
<line x1="628.7" y1="2384" x2="628.7" y2="2406" stroke="#000" stroke-width="2"/>
<line x1="704" y1="2129.9" x2="704" y2="2199" stroke="#000" stroke-width="2"/>
<line x1="698.5" y1="2129.9" x2="709.5" y2="2129.9" stroke="#000" stroke-width="2"/>
<line x1="731" y1="2386" x2="731" y2="2415" stroke="#000" stroke-width="2"/>
<line x1="757.8" y1="2395" x2="757.8" y2="2421" stroke="#000" stroke-width="2"/>
<line x1="783.9" y1="2388" x2="783.9" y2="2406" stroke="#000" stroke-width="2"/>
<line x1="811" y1="2374" x2="811" y2="2403" stroke="#000" stroke-width="2"/>
<line x1="886.6" y1="2216.5" x2="886.6" y2="2314.2" stroke="#000" stroke-width="2"/>
<line x1="881.1" y1="2314.2" x2="892.1" y2="2314.2" stroke="#000" stroke-width="2"/>
<line x1="913" y1="2366" x2="913" y2="2390" stroke="#000" stroke-width="2"/>
<line x1="940" y1="2376" x2="940" y2="2400" stroke="#000" stroke-width="2"/>
<line x1="966" y1="2374" x2="966" y2="2384" stroke="#000" stroke-width="2"/>
<line x1="993.1" y1="2366" x2="993.1" y2="2395" stroke="#000" stroke-width="2"/>
<circle cx="120.5" cy="2367.3" r="7.5" fill="#000"/>
<path d="M121.1 2361.3A6 6 0 0 1 121.1 2373.3Z" fill="#0000c8"/>
<circle cx="127.4" cy="2367.3" r="7.5" fill="#000"/>
<path d="M128 2361.3A6 6 0 0 1 128 2373.3Z" fill="#0000c8"/>
<circle cx="134.3" cy="2367.3" r="7.5" fill="#000"/>
<path d="M134.9 2361.3A6 6 0 0 1 134.9 2373.3Z" fill="#0000c8"/>
<circle cx="141.2" cy="2367.3" r="7.5" fill="#000"/>
<path d="M141.8 2361.3A6 6 0 0 1 141.8 2373.3Z" fill="#0000c8"/>
<circle cx="303" cy="2367.3" r="7.5" fill="#000"/>
<path d="M303.6 2361.3A6 6 0 0 1 303.6 2373.3Z" fill="#0000c8"/>
<circle cx="309.9" cy="2367.3" r="7.5" fill="#000"/>
<path d="M310.5 2361.3A6 6 0 0 1 310.5 2373.3Z" fill="#0000c8"/>
<circle cx="316.8" cy="2367.3" r="7.5" fill="#000"/>
<path d="M317.4 2361.3A6 6 0 0 1 317.4 2373.3Z" fill="#0000c8"/>
<circle cx="323.7" cy="2367.3" r="7.5" fill="#000"/>
<path d="M324.3 2361.3A6 6 0 0 1 324.3 2373.3Z" fill="#0000c8"/>
<circle cx="485.4" cy="2367.3" r="7.5" fill="#000"/>
<path d="M486 2361.3A6 6 0 0 1 486 2373.3Z" fill="#0000c8"/>
<circle cx="492.3" cy="2367.3" r="7.5" fill="#000"/>
<path d="M492.9 2361.3A6 6 0 0 1 492.9 2373.3Z" fill="#0000c8"/>
<circle cx="499.2" cy="2367.3" r="7.5" fill="#000"/>
<path d="M499.8 2361.3A6 6 0 0 1 499.8 2373.3Z" fill="#0000c8"/>
<circle cx="506.1" cy="2367.3" r="7.5" fill="#000"/>
<path d="M506.7 2361.3A6 6 0 0 1 506.7 2373.3Z" fill="#0000c8"/>
<circle cx="667.9" cy="2367.3" r="7.5" fill="#000"/>
<path d="M668.5 2361.3A6 6 0 0 1 668.5 2373.3Z" fill="#0000c8"/>
<circle cx="674.8" cy="2367.3" r="7.5" fill="#000"/>
<path d="M675.4 2361.3A6 6 0 0 1 675.4 2373.3Z" fill="#0000c8"/>
<circle cx="681.7" cy="2367.3" r="7.5" fill="#000"/>
<path d="M682.3 2361.3A6 6 0 0 1 682.3 2373.3Z" fill="#0000c8"/>
<circle cx="688.6" cy="2367.3" r="7.5" fill="#000"/>
<path d="M689.2 2361.3A6 6 0 0 1 689.2 2373.3Z" fill="#0000c8"/>
<circle cx="850.4" cy="2367.3" r="7.5" fill="#000"/>
<path d="M851 2361.3A6 6 0 0 1 851 2373.3Z" fill="#0000c8"/>
<circle cx="857.3" cy="2367.3" r="7.5" fill="#000"/>
<path d="M857.9 2361.3A6 6 0 0 1 857.9 2373.3Z" fill="#0000c8"/>
<circle cx="864.2" cy="2367.3" r="7.5" fill="#000"/>
<path d="M864.8 2361.3A6 6 0 0 1 864.8 2373.3Z" fill="#0000c8"/>
<circle cx="871.1" cy="2367.3" r="7.5" fill="#000"/>
<path d="M871.7 2361.3A6 6 0 0 1 871.7 2373.3Z" fill="#0000c8"/>
<circle cx="157.5" cy="2282.3" r="7.5" fill="#000"/>
<path d="M158.1 2276.3A6 6 0 0 1 158.1 2288.3Z" fill="#0000c8"/>
<circle cx="158.7" cy="2290.8" r="7.5" fill="#000"/>
<path d="M159.3 2284.8A6 6 0 0 1 159.3 2296.8Z" fill="#0000c8"/>
<circle cx="157.5" cy="2308.9" r="7.5" fill="#000"/>
<path d="M158.1 2302.9A6 6 0 0 1 158.1 2314.9Z" fill="#0000c8"/>
<circle cx="339.8" cy="2241.2" r="7.5" fill="#000"/>
<path d="M340.4 2235.2A6 6 0 0 1 340.4 2247.2Z" fill="#0000c8"/>
<circle cx="339.8" cy="2264.2" r="7.5" fill="#000"/>
<path d="M340.4 2258.2A6 6 0 0 1 340.4 2270.2Z" fill="#0000c8"/>
<circle cx="349.9" cy="2279.2" r="7.5" fill="#000"/>
<path d="M350.5 2273.2A6 6 0 0 1 350.5 2285.2Z" fill="#0000c8"/>
<circle cx="334.2" cy="2294.4" r="7.5" fill="#000"/>
<path d="M334.8 2288.4A6 6 0 0 1 334.8 2300.4Z" fill="#0000c8"/>
<circle cx="522.2" cy="2109.3" r="7.5" fill="#000"/>
<path d="M522.8 2103.3A6 6 0 0 1 522.8 2115.3Z" fill="#0000c8"/>
<circle cx="522.2" cy="2199.4" r="7.5" fill="#000"/>
<path d="M522.8 2193.4A6 6 0 0 1 522.8 2205.4Z" fill="#0000c8"/>
<circle cx="522.2" cy="2224.3" r="7.5" fill="#000"/>
<path d="M522.8 2218.3A6 6 0 0 1 522.8 2230.3Z" fill="#0000c8"/>
<circle cx="522.2" cy="2259.4" r="7.5" fill="#000"/>
<path d="M522.8 2253.4A6 6 0 0 1 522.8 2265.4Z" fill="#0000c8"/>
<circle cx="714.7" cy="2128.2" r="7.5" fill="#000"/>
<path d="M715.3 2122.2A6 6 0 0 1 715.3 2134.2Z" fill="#0000c8"/>
<circle cx="699.2" cy="2143.7" r="7.5" fill="#000"/>
<path d="M699.8 2137.7A6 6 0 0 1 699.8 2149.7Z" fill="#0000c8"/>
<circle cx="704" cy="2178.3" r="7.5" fill="#000"/>
<path d="M704.6 2172.3A6 6 0 0 1 704.6 2184.3Z" fill="#0000c8"/>
<circle cx="704" cy="2199.4" r="7.5" fill="#000"/>
<path d="M704.6 2193.4A6 6 0 0 1 704.6 2205.4Z" fill="#0000c8"/>
<circle cx="886.6" cy="2216.5" r="7.5" fill="#000"/>
<path d="M887.2 2210.5A6 6 0 0 1 887.2 2222.5Z" fill="#0000c8"/>
<circle cx="886.6" cy="2240.2" r="7.5" fill="#000"/>
<path d="M887.2 2234.2A6 6 0 0 1 887.2 2246.2Z" fill="#0000c8"/>
<circle cx="886.6" cy="2263.6" r="7.5" fill="#000"/>
<path d="M887.2 2257.6A6 6 0 0 1 887.2 2269.6Z" fill="#0000c8"/>
<circle cx="886.6" cy="2331" r="7.5" fill="#000"/>
<path d="M887.2 2325A6 6 0 0 1 887.2 2337Z" fill="#0000c8"/>
<circle cx="173.2" cy="2407" r="7.5" fill="#000"/>
<path d="M173.8 2401A6 6 0 0 1 173.8 2413Z" fill="#ff4848"/>
<circle cx="181.7" cy="2416.7" r="7.5" fill="#000"/>
<path d="M182.3 2410.7A6 6 0 0 1 182.3 2422.7Z" fill="#ff4848"/>
<circle cx="186.5" cy="2409.4" r="7.5" fill="#000"/>
<path d="M187.1 2403.4A6 6 0 0 1 187.1 2415.4Z" fill="#ff4848"/>
<circle cx="193.3" cy="2399.7" r="7.5" fill="#000"/>
<path d="M193.9 2393.7A6 6 0 0 1 193.9 2405.7Z" fill="#ff4848"/>
<circle cx="200.3" cy="2396.1" r="7.5" fill="#000"/>
<path d="M200.9 2390.1A6 6 0 0 1 200.9 2402.1Z" fill="#ff0000"/>
<circle cx="207.1" cy="2411.8" r="7.5" fill="#000"/>
<path d="M207.7 2405.8A6 6 0 0 1 207.7 2417.8Z" fill="#ff0000"/>
<circle cx="214.4" cy="2408.2" r="7.5" fill="#000"/>
<path d="M215 2402.2A6 6 0 0 1 215 2414.2Z" fill="#ff0000"/>
<circle cx="221.1" cy="2395.6" r="7.5" fill="#000"/>
<path d="M221.7 2389.6A6 6 0 0 1 221.7 2401.6Z" fill="#ff0000"/>
<circle cx="356" cy="2369.5" r="7.5" fill="#000"/>
<path d="M356.6 2363.5A6 6 0 0 1 356.6 2375.5Z" fill="#ff4848"/>
<circle cx="370.5" cy="2373.8" r="7.5" fill="#000"/>
<path d="M371.1 2367.8A6 6 0 0 1 371.1 2379.8Z" fill="#ff4848"/>
<circle cx="361.6" cy="2395.6" r="7.5" fill="#000"/>
<path d="M362.2 2389.6A6 6 0 0 1 362.2 2401.6Z" fill="#ff4848"/>
<circle cx="376.6" cy="2392.5" r="7.5" fill="#000"/>
<path d="M377.2 2386.5A6 6 0 0 1 377.2 2398.5Z" fill="#ff4848"/>
<circle cx="382.6" cy="2364.6" r="7.5" fill="#000"/>
<path d="M383.2 2358.6A6 6 0 0 1 383.2 2370.6Z" fill="#ff0000"/>
<circle cx="397.9" cy="2379.2" r="7.5" fill="#000"/>
<path d="M398.5 2373.2A6 6 0 0 1 398.5 2385.2Z" fill="#ff0000"/>
<circle cx="403.7" cy="2397.3" r="7.5" fill="#000"/>
<path d="M404.3 2391.3A6 6 0 0 1 404.3 2403.3Z" fill="#ff0000"/>
<circle cx="388.2" cy="2405.8" r="7.5" fill="#000"/>
<path d="M388.8 2399.8A6 6 0 0 1 388.8 2411.8Z" fill="#ff0000"/>
<circle cx="538.2" cy="2394.3" r="7.5" fill="#000"/>
<path d="M538.8 2388.3A6 6 0 0 1 538.8 2400.3Z" fill="#ff4848"/>
<circle cx="559.3" cy="2393.3" r="7.5" fill="#000"/>
<path d="M559.9 2387.3A6 6 0 0 1 559.9 2399.3Z" fill="#ff4848"/>
<circle cx="552" cy="2402.7" r="7.5" fill="#000"/>
<path d="M552.6 2396.7A6 6 0 0 1 552.6 2408.7Z" fill="#ff4848"/>
<circle cx="544.7" cy="2409.5" r="7.5" fill="#000"/>
<path d="M545.3 2403.5A6 6 0 0 1 545.3 2415.5Z" fill="#ff4848"/>
<circle cx="575" cy="2388.9" r="7.5" fill="#000"/>
<path d="M575.6 2382.9A6 6 0 0 1 575.6 2394.9Z" fill="#ff0000"/>
<circle cx="575" cy="2398.6" r="7.5" fill="#000"/>
<path d="M575.6 2392.6A6 6 0 0 1 575.6 2404.6Z" fill="#ff0000"/>
<circle cx="575" cy="2415.6" r="7.5" fill="#000"/>
<path d="M575.6 2409.6A6 6 0 0 1 575.6 2421.6Z" fill="#ff0000"/>
<circle cx="731.2" cy="2386.5" r="7.5" fill="#000"/>
<path d="M731.8 2380.5A6 6 0 0 1 731.8 2392.5Z" fill="#ff4848"/>
<circle cx="729.9" cy="2400.3" r="7.5" fill="#000"/>
<path d="M730.5 2394.3A6 6 0 0 1 730.5 2406.3Z" fill="#ff4848"/>
<circle cx="731.2" cy="2415.6" r="7.5" fill="#000"/>
<path d="M731.8 2409.6A6 6 0 0 1 731.8 2421.6Z" fill="#ff4848"/>
<circle cx="757.8" cy="2395" r="7.5" fill="#000"/>
<path d="M758.4 2389A6 6 0 0 1 758.4 2401Z" fill="#ff0000"/>
<circle cx="756.6" cy="2405.4" r="7.5" fill="#000"/>
<path d="M757.2 2399.4A6 6 0 0 1 757.2 2411.4Z" fill="#ff0000"/>
<circle cx="757.8" cy="2421.6" r="7.5" fill="#000"/>
<path d="M758.4 2415.6A6 6 0 0 1 758.4 2427.6Z" fill="#ff0000"/>
<circle cx="903.1" cy="2362.2" r="7.5" fill="#000"/>
<path d="M903.7 2356.2A6 6 0 0 1 903.7 2368.2Z" fill="#ff4848"/>
<circle cx="918.5" cy="2368" r="7.5" fill="#000"/>
<path d="M919.1 2362A6 6 0 0 1 919.1 2374Z" fill="#ff4848"/>
<circle cx="922.5" cy="2382.1" r="7.5" fill="#000"/>
<path d="M923.1 2376.1A6 6 0 0 1 923.1 2388.1Z" fill="#ff4848"/>
<circle cx="907.9" cy="2390.9" r="7.5" fill="#000"/>
<path d="M908.5 2384.9A6 6 0 0 1 908.5 2396.9Z" fill="#ff4848"/>
<circle cx="929.2" cy="2371" r="7.5" fill="#000"/>
<path d="M929.8 2365A6 6 0 0 1 929.8 2377Z" fill="#ff0000"/>
<circle cx="944.6" cy="2378.7" r="7.5" fill="#000"/>
<path d="M945.2 2372.7A6 6 0 0 1 945.2 2384.7Z" fill="#ff0000"/>
<circle cx="935.1" cy="2400.8" r="7.5" fill="#000"/>
<path d="M935.7 2394.8A6 6 0 0 1 935.7 2406.8Z" fill="#ff0000"/>
<circle cx="949.7" cy="2400.8" r="7.5" fill="#000"/>
<path d="M950.3 2394.8A6 6 0 0 1 950.3 2406.8Z" fill="#ff0000"/>
<circle cx="227" cy="2373.6" r="7.5" fill="#000"/>
<path d="M227.6 2367.6A6 6 0 0 1 227.6 2379.6Z" fill="#4b0a6e"/>
<circle cx="242.7" cy="2374.3" r="7.5" fill="#000"/>
<path d="M243.3 2368.3A6 6 0 0 1 243.3 2380.3Z" fill="#4b0a6e"/>
<circle cx="237.4" cy="2395.6" r="7.5" fill="#000"/>
<path d="M238 2389.6A6 6 0 0 1 238 2401.6Z" fill="#4b0a6e"/>
<circle cx="264.5" cy="2322.3" r="7.5" fill="#000"/>
<path d="M265.1 2316.3A6 6 0 0 1 265.1 2328.3Z" fill="#4b0a6e"/>
<circle cx="263.3" cy="2358.6" r="7.5" fill="#000"/>
<path d="M263.9 2352.6A6 6 0 0 1 263.9 2364.6Z" fill="#4b0a6e"/>
<circle cx="265.2" cy="2367" r="7.5" fill="#000"/>
<path d="M265.8 2361A6 6 0 0 1 265.8 2373Z" fill="#4b0a6e"/>
<circle cx="263.3" cy="2373.1" r="7.5" fill="#000"/>
<path d="M263.9 2367.1A6 6 0 0 1 263.9 2379.1Z" fill="#4b0a6e"/>
<circle cx="419.7" cy="2362.7" r="7.5" fill="#000"/>
<path d="M420.3 2356.7A6 6 0 0 1 420.3 2368.7Z" fill="#4b0a6e"/>
<circle cx="429.4" cy="2375.5" r="7.5" fill="#000"/>
<path d="M430 2369.5A6 6 0 0 1 430 2381.5Z" fill="#4b0a6e"/>
<circle cx="415.3" cy="2388.1" r="7.5" fill="#000"/>
<path d="M415.9 2382.1A6 6 0 0 1 415.9 2394.1Z" fill="#4b0a6e"/>
<circle cx="435.9" cy="2327.1" r="7.5" fill="#000"/>
<path d="M436.5 2321.1A6 6 0 0 1 436.5 2333.1Z" fill="#4b0a6e"/>
<circle cx="451.6" cy="2347.2" r="7.5" fill="#000"/>
<path d="M452.2 2341.2A6 6 0 0 1 452.2 2353.2Z" fill="#4b0a6e"/>
<circle cx="456.5" cy="2367.8" r="7.5" fill="#000"/>
<path d="M457.1 2361.8A6 6 0 0 1 457.1 2373.8Z" fill="#4b0a6e"/>
<circle cx="441.9" cy="2374.3" r="7.5" fill="#000"/>
<path d="M442.5 2368.3A6 6 0 0 1 442.5 2380.3Z" fill="#4b0a6e"/>
<circle cx="601.6" cy="2411.9" r="7.5" fill="#000"/>
<path d="M602.2 2405.9A6 6 0 0 1 602.2 2417.9Z" fill="#4b0a6e"/>
<circle cx="628.7" cy="2383.6" r="7.5" fill="#000"/>
<path d="M629.3 2377.6A6 6 0 0 1 629.3 2389.6Z" fill="#4b0a6e"/>
<circle cx="628.7" cy="2405.9" r="7.5" fill="#000"/>
<path d="M629.3 2399.9A6 6 0 0 1 629.3 2411.9Z" fill="#4b0a6e"/>
<circle cx="628.7" cy="2413.2" r="7.5" fill="#000"/>
<path d="M629.3 2407.2A6 6 0 0 1 629.3 2419.2Z" fill="#4b0a6e"/>
<circle cx="783.9" cy="2387.7" r="7.5" fill="#000"/>
<path d="M784.5 2381.7A6 6 0 0 1 784.5 2393.7Z" fill="#4b0a6e"/>
<circle cx="783.9" cy="2405.9" r="7.5" fill="#000"/>
<path d="M784.5 2399.9A6 6 0 0 1 784.5 2411.9Z" fill="#4b0a6e"/>
<circle cx="811" cy="2374.4" r="7.5" fill="#000"/>
<path d="M811.6 2368.4A6 6 0 0 1 811.6 2380.4Z" fill="#4b0a6e"/>
<circle cx="809.8" cy="2388.9" r="7.5" fill="#000"/>
<path d="M810.4 2382.9A6 6 0 0 1 810.4 2394.9Z" fill="#4b0a6e"/>
<circle cx="811" cy="2403.5" r="7.5" fill="#000"/>
<path d="M811.6 2397.5A6 6 0 0 1 811.6 2409.5Z" fill="#4b0a6e"/>
<circle cx="966" cy="2374.2" r="7.5" fill="#000"/>
<path d="M966.6 2368.2A6 6 0 0 1 966.6 2380.2Z" fill="#4b0a6e"/>
<circle cx="966" cy="2383.5" r="7.5" fill="#000"/>
<path d="M966.6 2377.5A6 6 0 0 1 966.6 2389.5Z" fill="#4b0a6e"/>
<circle cx="993.1" cy="2366.2" r="7.5" fill="#000"/>
<path d="M993.7 2360.2A6 6 0 0 1 993.7 2372.2Z" fill="#4b0a6e"/>
<circle cx="993.1" cy="2383.5" r="7.5" fill="#000"/>
<path d="M993.7 2377.5A6 6 0 0 1 993.7 2389.5Z" fill="#4b0a6e"/>
<circle cx="993.1" cy="2388.8" r="7.5" fill="#000"/>
<path d="M993.7 2382.8A6 6 0 0 1 993.7 2394.8Z" fill="#4b0a6e"/>
<line x1="108.8" y1="2075" x2="108.8" y2="2441.7" stroke="#000" stroke-width="4.4"/>
<line x1="96" y1="2439.5" x2="1017" y2="2439.5" stroke="#000" stroke-width="4.4"/>
<line x1="96" y1="2439.5" x2="108.8" y2="2439.5" stroke="#000" stroke-width="4.4"/>
<text x="91" y="2449.3" font-size="28.5" text-anchor="end">0</text>
<line x1="96" y1="2367" x2="108.8" y2="2367" stroke="#000" stroke-width="4.4"/>
<text x="91" y="2376.8" font-size="28.5" text-anchor="end">1</text>
<line x1="96" y1="2294.5" x2="108.8" y2="2294.5" stroke="#000" stroke-width="4.4"/>
<text x="91" y="2304.3" font-size="28.5" text-anchor="end">2</text>
<line x1="96" y1="2222" x2="108.8" y2="2222" stroke="#000" stroke-width="4.4"/>
<text x="91" y="2231.8" font-size="28.5" text-anchor="end">3</text>
<line x1="96" y1="2149.5" x2="108.8" y2="2149.5" stroke="#000" stroke-width="4.4"/>
<text x="91" y="2159.3" font-size="28.5" text-anchor="end">4</text>
<line x1="96" y1="2077" x2="108.8" y2="2077" stroke="#000" stroke-width="4.4"/>
<text x="91" y="2086.8" font-size="28.5" text-anchor="end">5</text>
<line x1="197" y1="2439.5" x2="197" y2="2451.7" stroke="#000" stroke-width="4.2"/>
<line x1="379.4" y1="2439.5" x2="379.4" y2="2451.7" stroke="#000" stroke-width="4.2"/>
<line x1="561.8" y1="2439.5" x2="561.8" y2="2451.7" stroke="#000" stroke-width="4.2"/>
<line x1="744.2" y1="2439.5" x2="744.2" y2="2451.7" stroke="#000" stroke-width="4.2"/>
<line x1="926.6" y1="2439.5" x2="926.6" y2="2451.7" stroke="#000" stroke-width="4.2"/>
<text font-size="28.5" text-anchor="end" font-style="italic" transform="translate(235.5 2466.7) rotate(-45)">SLC7A5</text>
<text font-size="28.5" text-anchor="end" font-style="italic" transform="translate(417.9 2466.7) rotate(-45)">SLC3A2</text>
<text font-size="28.5" text-anchor="end" font-style="italic" transform="translate(600.3 2466.7) rotate(-45)">PHGDH</text>
<text font-size="28.5" text-anchor="end" font-style="italic" transform="translate(776.7 2466.7) rotate(-45)">PSAT1</text>
<text font-size="28.5" text-anchor="end" font-style="italic" transform="translate(955.1 2467.2) rotate(-45)">PSPH</text>
<text font-size="28.5" text-anchor="middle" transform="translate(49 2258) rotate(-90)">mRNA expression levels</text>
<text x="146.1" y="2253.7" font-size="18.8" text-anchor="middle">p=0.001</text>
<line x1="124.3" y1="2259.8" x2="156.7" y2="2259.8" stroke="#000" stroke-width="2.2"/>
<text x="197.9" y="2370.7" font-size="18.8" text-anchor="middle">n.s</text>
<line x1="181.7" y1="2378.4" x2="213.6" y2="2378.4" stroke="#000" stroke-width="2.2"/>
<text x="249.5" y="2301.7" font-size="18.8" text-anchor="middle">n.s</text>
<line x1="233.7" y1="2310.2" x2="265.7" y2="2310.2" stroke="#000" stroke-width="2.2"/>
<text x="325.5" y="2213.3" font-size="18.8" text-anchor="middle">p=0.003</text>
<line x1="308.8" y1="2221.8" x2="340.3" y2="2221.8" stroke="#000" stroke-width="2.2"/>
<text x="379.2" y="2337.3" font-size="18.8" text-anchor="middle">n.s</text>
<line x1="363.3" y1="2345.3" x2="395.5" y2="2345.3" stroke="#000" stroke-width="2.2"/>
<text x="431.1" y="2305.3" font-size="18.8" text-anchor="middle">n.s</text>
<line x1="415.3" y1="2313.1" x2="447.3" y2="2313.1" stroke="#000" stroke-width="2.2"/>
<text x="510.8" y="2088.7" font-size="18.8" text-anchor="middle">p=0.01</text>
<line x1="490.7" y1="2097.7" x2="522.5" y2="2097.7" stroke="#000" stroke-width="2.2"/>
<text x="562.3" y="2364.7" font-size="18.8" text-anchor="middle">n.s</text>
<line x1="546.4" y1="2373.2" x2="577.9" y2="2373.2" stroke="#000" stroke-width="2.2"/>
<text x="613.2" y="2364" font-size="18.8" text-anchor="middle">n.s</text>
<line x1="597.3" y1="2372" x2="629" y2="2372" stroke="#000" stroke-width="2.2"/>
<text x="695" y="2106.4" font-size="18.8" text-anchor="middle">p=0.001</text>
<line x1="673" y1="2112.9" x2="705" y2="2112.9" stroke="#000" stroke-width="2.2"/>
<text x="747.1" y="2359.4" font-size="18.8" text-anchor="middle">n.s</text>
<line x1="731.2" y1="2367.6" x2="762.6" y2="2367.6" stroke="#000" stroke-width="2.2"/>
<text x="795.8" y="2352.6" font-size="18.8" text-anchor="middle">n.s</text>
<line x1="780" y1="2360.4" x2="811.5" y2="2360.4" stroke="#000" stroke-width="2.2"/>
<text x="870.8" y="2195.7" font-size="18.8" text-anchor="middle">p=0.02</text>
<line x1="854.6" y1="2203.2" x2="886.6" y2="2203.2" stroke="#000" stroke-width="2.2"/>
<text x="927.8" y="2338.2" font-size="18.8" text-anchor="middle">n.s</text>
<line x1="911.4" y1="2346.7" x2="943.3" y2="2346.7" stroke="#000" stroke-width="2.2"/>
<text x="978.1" y="2335" font-size="18.8" text-anchor="middle">n.s</text>
<line x1="962" y1="2343.5" x2="993.9" y2="2343.5" stroke="#000" stroke-width="2.2"/>
<rect x="990.2" y="1989.2" width="47.1" height="24.9" fill="#5c5cf7" stroke="#0000c0" stroke-width="4.8" stroke-linejoin="round"/>
<text x="1042.6" y="2015.4" font-size="28.7">NT CM</text>
<rect x="990.2" y="2021.9" width="47.1" height="24.7" fill="url(#lb)" stroke="#0000c0" stroke-width="4.8" stroke-linejoin="round"/>
<text x="1042.6" y="2048.4" font-size="27.7">NT low AA</text>
<rect x="990.2" y="2057.1" width="47.1" height="24.4" fill="#f58080" stroke="#ee1c25" stroke-width="4.8" stroke-linejoin="round"/>
<text x="1042.6" y="2081.2" font-size="28.7">Dasa CM</text>
<rect x="990.2" y="2089.8" width="47.1" height="24.2" fill="url(#lr)" stroke="#ee1c25" stroke-width="4.8" stroke-linejoin="round"/>
<text x="1042.6" y="2113.7" font-size="28.7">Dasa low AA</text>
<rect x="990.2" y="2126.3" width="47.1" height="24.2" fill="#b800c0" stroke="#4a0a63" stroke-width="4.8" stroke-linejoin="round"/>
<text x="1042.6" y="2147.2" font-size="28.7">PF573 CM</text>
<rect x="990.2" y="2163.6" width="47.1" height="24.5" fill="url(#lp)" stroke="#4a0a63" stroke-width="4.8" stroke-linejoin="round"/>
<text x="1042.6" y="2180.5" font-size="28.7">PF573 low AA</text>
<text x="1217.6" y="1976.5" font-size="30.5" font-weight="bold">h</text>
<text x="1479.2" y="2015.6" font-size="31" text-anchor="middle">MDA-231</text>
<rect x="1409.6" y="2155.1" width="22.8" height="232.5" fill="#5c5cf7" stroke="#0000c0" stroke-width="4.2"/>
<rect x="1436.6" y="2183.6" width="22.8" height="204" fill="url(#hb)" stroke="#0000c0" stroke-width="4.2"/>
<rect x="1463.7" y="2271.7" width="22.8" height="115.9" fill="#ff8080" stroke="#ff0000" stroke-width="4.2"/>
<rect x="1490.9" y="2359.7" width="22.8" height="27.9" fill="url(#hr)" stroke="#ff0000" stroke-width="4.2"/>
<rect x="1518.2" y="2269.1" width="22.8" height="118.5" fill="#b800c0" stroke="#4a0a63" stroke-width="4.2"/>
<rect x="1545.4" y="2389.8" width="22.8" height="14.9" fill="url(#hp)" stroke="#4a0a63" stroke-width="4.2"/>
<line x1="1421.3" y1="2134.8" x2="1421.3" y2="2171.9" stroke="#000" stroke-width="2"/>
<line x1="1421.3" y1="2171.9" x2="1426.8" y2="2171.9" stroke="#000" stroke-width="2"/>
<line x1="1447.8" y1="2170.8" x2="1447.8" y2="2196.5" stroke="#000" stroke-width="2"/>
<line x1="1447.8" y1="2196.5" x2="1453.3" y2="2196.5" stroke="#000" stroke-width="2"/>
<line x1="1474.7" y1="2240.1" x2="1474.7" y2="2297.8" stroke="#000" stroke-width="2"/>
<line x1="1501.5" y1="2344.3" x2="1501.5" y2="2373" stroke="#000" stroke-width="2"/>
<line x1="1501.5" y1="2373" x2="1507" y2="2373" stroke="#000" stroke-width="2"/>
<line x1="1530.2" y1="2244.9" x2="1530.2" y2="2289.8" stroke="#000" stroke-width="2"/>
<line x1="1530.2" y1="2289.8" x2="1535.7" y2="2289.8" stroke="#000" stroke-width="2"/>
<line x1="1556.4" y1="2383.5" x2="1556.4" y2="2426.4" stroke="#000" stroke-width="2"/>
<line x1="1556.4" y1="2426.4" x2="1561.9" y2="2426.4" stroke="#000" stroke-width="2"/>
<circle cx="1420.6" cy="2134.8" r="7.5" fill="#000"/>
<path d="M1421.2 2128.8A6 6 0 0 1 1421.2 2140.8Z" fill="#0000c8"/>
<circle cx="1431.5" cy="2155.5" r="7.5" fill="#000"/>
<path d="M1432.1 2149.5A6 6 0 0 1 1432.1 2161.5Z" fill="#0000c8"/>
<circle cx="1414.7" cy="2170.8" r="7.5" fill="#000"/>
<path d="M1415.3 2164.8A6 6 0 0 1 1415.3 2176.8Z" fill="#0000c8"/>
<circle cx="1447.4" cy="2170.8" r="7.5" fill="#000"/>
<path d="M1448 2164.8A6 6 0 0 1 1448 2176.8Z" fill="#0000c8"/>
<circle cx="1457.9" cy="2176.9" r="7.5" fill="#000"/>
<path d="M1458.5 2170.9A6 6 0 0 1 1458.5 2182.9Z" fill="#0000c8"/>
<circle cx="1441.5" cy="2197.2" r="7.5" fill="#000"/>
<path d="M1442.1 2191.2A6 6 0 0 1 1442.1 2203.2Z" fill="#0000c8"/>
<circle cx="1474.7" cy="2240.1" r="7.5" fill="#000"/>
<path d="M1475.3 2234.1A6 6 0 0 1 1475.3 2246.1Z" fill="#ff0000"/>
<circle cx="1474.7" cy="2275" r="7.5" fill="#000"/>
<path d="M1475.3 2269A6 6 0 0 1 1475.3 2281Z" fill="#ff0000"/>
<circle cx="1474.7" cy="2297.8" r="7.5" fill="#000"/>
<path d="M1475.3 2291.8A6 6 0 0 1 1475.3 2303.8Z" fill="#ff0000"/>
<circle cx="1501.5" cy="2344.3" r="7.5" fill="#000"/>
<path d="M1502.1 2338.3A6 6 0 0 1 1502.1 2350.3Z" fill="#ff0000"/>
<circle cx="1512.4" cy="2363.9" r="7.5" fill="#000"/>
<path d="M1513 2357.9A6 6 0 0 1 1513 2369.9Z" fill="#ff0000"/>
<circle cx="1495.8" cy="2371.3" r="7.5" fill="#000"/>
<path d="M1496.4 2365.3A6 6 0 0 1 1496.4 2377.3Z" fill="#ff0000"/>
<circle cx="1529.6" cy="2244.9" r="7.5" fill="#000"/>
<path d="M1530.2 2238.9A6 6 0 0 1 1530.2 2250.9Z" fill="#4b0a6e"/>
<circle cx="1539.6" cy="2270.6" r="7.5" fill="#000"/>
<path d="M1540.2 2264.6A6 6 0 0 1 1540.2 2276.6Z" fill="#4b0a6e"/>
<circle cx="1523.2" cy="2287.6" r="7.5" fill="#000"/>
<path d="M1523.8 2281.6A6 6 0 0 1 1523.8 2293.6Z" fill="#4b0a6e"/>
<circle cx="1556.4" cy="2383.5" r="7.5" fill="#000"/>
<path d="M1557 2377.5A6 6 0 0 1 1557 2389.5Z" fill="#4b0a6e"/>
<circle cx="1566.6" cy="2411.2" r="7.5" fill="#000"/>
<path d="M1567.2 2405.2A6 6 0 0 1 1567.2 2417.2Z" fill="#4b0a6e"/>
<circle cx="1550.9" cy="2423.6" r="7.5" fill="#000"/>
<path d="M1551.5 2417.6A6 6 0 0 1 1551.5 2429.6Z" fill="#4b0a6e"/>
<line x1="1397.7" y1="2076.2" x2="1397.7" y2="2442.1" stroke="#000" stroke-width="4.2"/>
<line x1="1385.3" y1="2388.7" x2="1581" y2="2388.7" stroke="#000" stroke-width="4.2"/>
<line x1="1385.3" y1="2129.7" x2="1397.7" y2="2129.7" stroke="#000" stroke-width="4.2"/>
<text x="1377" y="2137.9" font-size="28.5" text-anchor="end">1.0</text>
<line x1="1385.3" y1="2259.2" x2="1397.7" y2="2259.2" stroke="#000" stroke-width="4.2"/>
<text x="1377" y="2267.4" font-size="28.5" text-anchor="end">0.5</text>
<line x1="1385.3" y1="2388.7" x2="1397.7" y2="2388.7" stroke="#000" stroke-width="4.2"/>
<text x="1377" y="2396.9" font-size="28.5" text-anchor="end">0.0</text>
<text font-size="28.5" text-anchor="middle" transform="translate(1292.7 2256) rotate(-90)">Proliferation rate</text>
<text font-size="28.5" text-anchor="middle" transform="translate(1328 2257) rotate(-90)">(doublings/day)</text>
<text x="1476.3" y="2049" font-size="18.8" text-anchor="middle">p=0.001</text>
<line x1="1421.3" y1="2059.2" x2="1528.5" y2="2059.2" stroke="#000" stroke-width="2.2"/>
<text x="1448.5" y="2082.1" font-size="18.8" text-anchor="middle">p=0.002</text>
<line x1="1421.3" y1="2090.4" x2="1474.7" y2="2090.4" stroke="#000" stroke-width="2.2"/>
<text x="1433.6" y="2108.3" font-size="18.8" text-anchor="middle">n.s</text>
<line x1="1420.8" y1="2115.2" x2="1447.4" y2="2115.2" stroke="#000" stroke-width="2.2"/>
<text x="1474.4" y="2413.3" font-size="18.8" text-anchor="middle">p&lt;0.0001</text>
<line x1="1447.4" y1="2422.1" x2="1500.8" y2="2422.1" stroke="#000" stroke-width="2.2"/>
<text x="1497.5" y="2445.4" font-size="18.8" text-anchor="middle">p&lt;0.0001</text>
<line x1="1447.4" y1="2455.2" x2="1554.6" y2="2455.2" stroke="#000" stroke-width="2.2"/>
<rect x="1624.6" y="1996.1" width="45.6" height="23.6" fill="#5c5cf7" stroke="#0000c0" stroke-width="4.8" stroke-linejoin="round"/>
<text x="1675.8" y="2017.6" font-size="28.7">NT CM</text>
<rect x="1624.6" y="2029.1" width="45.6" height="23.6" fill="url(#lb)" stroke="#0000c0" stroke-width="4.8" stroke-linejoin="round"/>
<text x="1675.8" y="2050.6" font-size="27.7">NT low AA</text>
<rect x="1624.6" y="2061.7" width="45.6" height="23.6" fill="#f58080" stroke="#ee1c25" stroke-width="4.8" stroke-linejoin="round"/>
<text x="1675.8" y="2083.2" font-size="28.7">Dasa CM</text>
<rect x="1624.6" y="2094.7" width="45.6" height="23.6" fill="url(#lr)" stroke="#ee1c25" stroke-width="4.8" stroke-linejoin="round"/>
<text x="1675.8" y="2116.2" font-size="28.7">Dasa low AA</text>
<rect x="1624.6" y="2128.1" width="45.6" height="22.8" fill="#b800c0" stroke="#4a0a63" stroke-width="4.8" stroke-linejoin="round"/>
<text x="1675.8" y="2149.6" font-size="28.7">PF573 CM</text>
<rect x="1624.6" y="2161.1" width="45.6" height="22.8" fill="url(#lp)" stroke="#4a0a63" stroke-width="4.8" stroke-linejoin="round"/>
<text x="1675.8" y="2182.6" font-size="28.7">PF573 low AA</text>
</svg></body></html>
